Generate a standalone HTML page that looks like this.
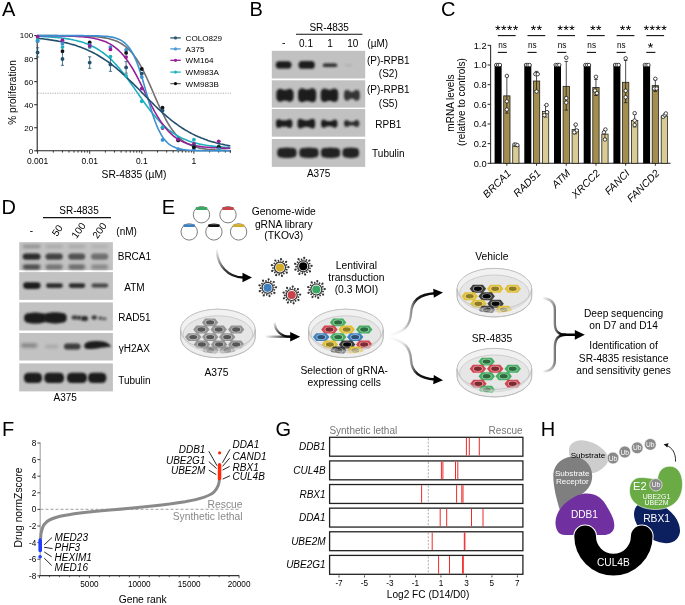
<!DOCTYPE html>
<html><head><meta charset="utf-8"><style>
html,body{margin:0;padding:0;background:#fff;}
svg{display:block;will-change:transform;}
text{font-family:"Liberation Sans", sans-serif;}
</style></head><body>
<svg width="685" height="605" viewBox="0 0 685 605" font-family="Liberation Sans, sans-serif">
<rect width="685" height="605" fill="#fff"/>
<text x="2.00" y="15.80" font-size="20" text-anchor="start" fill="#000" >A</text>
<text x="249.40" y="15.80" font-size="20" text-anchor="start" fill="#000" >B</text>
<text x="440.90" y="15.80" font-size="20" text-anchor="start" fill="#000" >C</text>
<text x="1.60" y="213.80" font-size="20" text-anchor="start" fill="#000" >D</text>
<text x="161.80" y="213.80" font-size="20" text-anchor="start" fill="#000" >E</text>
<text x="2.00" y="436.00" font-size="20" text-anchor="start" fill="#000" >F</text>
<text x="275.50" y="436.00" font-size="20" text-anchor="start" fill="#000" >G</text>
<text x="540.70" y="436.00" font-size="20" text-anchor="start" fill="#000" >H</text>
<line x1="37.20" y1="35.20" x2="37.20" y2="151.30" stroke="#222" stroke-width="1.1" />
<line x1="36.70" y1="150.80" x2="231.00" y2="150.80" stroke="#222" stroke-width="1.1" />
<line x1="34.20" y1="150.80" x2="37.20" y2="150.80" stroke="#222" stroke-width="1" />
<text x="33.20" y="153.66" font-size="8" text-anchor="end" fill="#000" >0</text>
<line x1="34.20" y1="127.76" x2="37.20" y2="127.76" stroke="#222" stroke-width="1" />
<text x="33.20" y="130.62" font-size="8" text-anchor="end" fill="#000" >20</text>
<line x1="34.20" y1="104.72" x2="37.20" y2="104.72" stroke="#222" stroke-width="1" />
<text x="33.20" y="107.58" font-size="8" text-anchor="end" fill="#000" >40</text>
<line x1="34.20" y1="81.68" x2="37.20" y2="81.68" stroke="#222" stroke-width="1" />
<text x="33.20" y="84.54" font-size="8" text-anchor="end" fill="#000" >60</text>
<line x1="34.20" y1="58.64" x2="37.20" y2="58.64" stroke="#222" stroke-width="1" />
<text x="33.20" y="61.50" font-size="8" text-anchor="end" fill="#000" >80</text>
<line x1="34.20" y1="35.60" x2="37.20" y2="35.60" stroke="#222" stroke-width="1" />
<text x="33.20" y="38.46" font-size="8" text-anchor="end" fill="#000" >100</text>
<line x1="37.60" y1="150.80" x2="37.60" y2="153.80" stroke="#222" stroke-width="0.9" />
<line x1="53.28" y1="150.80" x2="53.28" y2="152.60" stroke="#222" stroke-width="0.9" />
<line x1="62.46" y1="150.80" x2="62.46" y2="152.60" stroke="#222" stroke-width="0.9" />
<line x1="68.97" y1="150.80" x2="68.97" y2="152.60" stroke="#222" stroke-width="0.9" />
<line x1="74.02" y1="150.80" x2="74.02" y2="152.60" stroke="#222" stroke-width="0.9" />
<line x1="78.14" y1="150.80" x2="78.14" y2="152.60" stroke="#222" stroke-width="0.9" />
<line x1="81.63" y1="150.80" x2="81.63" y2="152.60" stroke="#222" stroke-width="0.9" />
<line x1="84.65" y1="150.80" x2="84.65" y2="152.60" stroke="#222" stroke-width="0.9" />
<line x1="87.32" y1="150.80" x2="87.32" y2="152.60" stroke="#222" stroke-width="0.9" />
<line x1="89.70" y1="150.80" x2="89.70" y2="153.80" stroke="#222" stroke-width="0.9" />
<line x1="105.38" y1="150.80" x2="105.38" y2="152.60" stroke="#222" stroke-width="0.9" />
<line x1="114.56" y1="150.80" x2="114.56" y2="152.60" stroke="#222" stroke-width="0.9" />
<line x1="121.07" y1="150.80" x2="121.07" y2="152.60" stroke="#222" stroke-width="0.9" />
<line x1="126.12" y1="150.80" x2="126.12" y2="152.60" stroke="#222" stroke-width="0.9" />
<line x1="130.24" y1="150.80" x2="130.24" y2="152.60" stroke="#222" stroke-width="0.9" />
<line x1="133.73" y1="150.80" x2="133.73" y2="152.60" stroke="#222" stroke-width="0.9" />
<line x1="136.75" y1="150.80" x2="136.75" y2="152.60" stroke="#222" stroke-width="0.9" />
<line x1="139.42" y1="150.80" x2="139.42" y2="152.60" stroke="#222" stroke-width="0.9" />
<line x1="141.80" y1="150.80" x2="141.80" y2="153.80" stroke="#222" stroke-width="0.9" />
<line x1="157.48" y1="150.80" x2="157.48" y2="152.60" stroke="#222" stroke-width="0.9" />
<line x1="166.66" y1="150.80" x2="166.66" y2="152.60" stroke="#222" stroke-width="0.9" />
<line x1="173.17" y1="150.80" x2="173.17" y2="152.60" stroke="#222" stroke-width="0.9" />
<line x1="178.22" y1="150.80" x2="178.22" y2="152.60" stroke="#222" stroke-width="0.9" />
<line x1="182.34" y1="150.80" x2="182.34" y2="152.60" stroke="#222" stroke-width="0.9" />
<line x1="185.83" y1="150.80" x2="185.83" y2="152.60" stroke="#222" stroke-width="0.9" />
<line x1="188.85" y1="150.80" x2="188.85" y2="152.60" stroke="#222" stroke-width="0.9" />
<line x1="191.52" y1="150.80" x2="191.52" y2="152.60" stroke="#222" stroke-width="0.9" />
<line x1="193.90" y1="150.80" x2="193.90" y2="153.80" stroke="#222" stroke-width="0.9" />
<line x1="209.58" y1="150.80" x2="209.58" y2="152.60" stroke="#222" stroke-width="0.9" />
<line x1="218.76" y1="150.80" x2="218.76" y2="152.60" stroke="#222" stroke-width="0.9" />
<line x1="225.27" y1="150.80" x2="225.27" y2="152.60" stroke="#222" stroke-width="0.9" />
<line x1="230.32" y1="150.80" x2="230.32" y2="152.60" stroke="#222" stroke-width="0.9" />
<line x1="230.32" y1="150.80" x2="230.32" y2="152.60" stroke="#222" stroke-width="0.9" />
<text x="37.60" y="163.84" font-size="8.5" text-anchor="middle" fill="#000" >0.001</text>
<text x="89.70" y="163.84" font-size="8.5" text-anchor="middle" fill="#000" >0.01</text>
<text x="141.80" y="163.84" font-size="8.5" text-anchor="middle" fill="#000" >0.1</text>
<text x="193.90" y="163.84" font-size="8.5" text-anchor="middle" fill="#000" >1</text>
<text x="134.00" y="177.59" font-size="10.3" text-anchor="middle" fill="#000" >SR-4835 (µM)</text>
<text transform="translate(16.4,92.5) rotate(-90)" font-size="10.1" text-anchor="middle">% proliferation</text>
<line x1="38.00" y1="93.20" x2="231.00" y2="93.20" stroke="#999" stroke-width="0.8" stroke-dasharray="1.2 1.2"/>
<polyline points="37.6,35.6 39.2,35.6 40.8,35.6 42.4,35.6 44.0,35.6 45.6,35.6 47.2,35.6 48.8,35.6 50.4,35.6 52.1,35.6 53.7,35.6 55.3,35.6 56.9,35.6 58.5,35.7 60.1,35.7 61.7,35.7 63.3,35.7 64.9,35.7 66.5,35.7 68.1,35.7 69.7,35.7 71.3,35.8 72.9,35.8 74.5,35.8 76.1,35.8 77.7,35.9 79.4,35.9 81.0,35.9 82.6,36.0 84.2,36.0 85.8,36.1 87.4,36.2 89.0,36.2 90.6,36.3 92.2,36.4 93.8,36.5 95.4,36.7 97.0,36.8 98.6,37.0 100.2,37.2 101.8,37.4 103.4,37.6 105.1,37.9 106.7,38.2 108.3,38.5 109.9,38.9 111.5,39.4 113.1,39.9 114.7,40.4 116.3,41.1 117.9,41.8 119.5,42.6 121.1,43.5 122.7,44.5 124.3,45.6 125.9,46.9 127.5,48.3 129.1,49.8 130.7,51.5 132.4,53.3 134.0,55.4 135.6,57.6 137.2,60.0 138.8,62.5 140.4,65.3 142.0,68.2 143.6,71.3 145.2,74.6 146.8,78.0 148.4,81.5 150.0,85.1 151.6,88.8 153.2,92.5 154.8,96.2 156.4,99.9 158.0,103.5 159.7,107.1 161.3,110.5 162.9,113.8 164.5,117.0 166.1,120.0 167.7,122.8 169.3,125.5 170.9,127.9 172.5,130.2 174.1,132.3 175.7,134.2 177.3,136.0 178.9,137.6 180.5,139.0 182.1,140.3 183.7,141.5 185.3,142.5 187.0,143.5 188.6,144.3 190.2,145.0 191.8,145.7 193.4,146.3 195.0,146.8 196.6,147.3 198.2,147.7 199.8,148.1 201.4,148.4 203.0,148.7 204.6,148.9 206.2,149.2 207.8,149.4 209.4,149.5 211.0,149.7 212.7,149.8 214.3,149.9 215.9,150.0 217.5,150.1 219.1,150.2 220.7,150.3 222.3,150.3 223.9,150.4 225.5,150.4 227.1,150.5 228.7,150.5 230.3,150.6" fill="none" stroke="#6f6f6f" stroke-width="1.6"/>
<polyline points="37.6,36.3 39.2,36.4 40.8,36.4 42.4,36.5 44.0,36.6 45.6,36.7 47.2,36.8 48.8,36.9 50.4,37.0 52.1,37.1 53.7,37.2 55.3,37.4 56.9,37.5 58.5,37.7 60.1,37.8 61.7,38.0 63.3,38.2 64.9,38.4 66.5,38.7 68.1,38.9 69.7,39.2 71.3,39.5 72.9,39.8 74.5,40.2 76.1,40.5 77.7,40.9 79.4,41.4 81.0,41.8 82.6,42.3 84.2,42.8 85.8,43.4 87.4,44.0 89.0,44.7 90.6,45.4 92.2,46.2 93.8,47.0 95.4,47.8 97.0,48.7 98.6,49.7 100.2,50.8 101.8,51.9 103.4,53.0 105.1,54.3 106.7,55.6 108.3,57.0 109.9,58.4 111.5,59.9 113.1,61.5 114.7,63.2 116.3,64.9 117.9,66.7 119.5,68.6 121.1,70.6 122.7,72.5 124.3,74.6 125.9,76.7 127.5,78.9 129.1,81.1 130.7,83.3 132.4,85.6 134.0,87.8 135.6,90.1 137.2,92.4 138.8,94.7 140.4,97.0 142.0,99.3 143.6,101.6 145.2,103.8 146.8,106.0 148.4,108.1 150.0,110.2 151.6,112.2 153.2,114.2 154.8,116.1 156.4,118.0 158.0,119.8 159.7,121.5 161.3,123.1 162.9,124.7 164.5,126.2 166.1,127.6 167.7,129.0 169.3,130.3 170.9,131.5 172.5,132.6 174.1,133.7 175.7,134.7 177.3,135.7 178.9,136.6 180.5,137.4 182.1,138.2 183.7,138.9 185.3,139.6 187.0,140.3 188.6,140.9 190.2,141.4 191.8,142.0 193.4,142.4 195.0,142.9 196.6,143.3 198.2,143.7 199.8,144.1 201.4,144.4 203.0,144.7 204.6,145.0 206.2,145.3 207.8,145.5 209.4,145.7 211.0,145.9 212.7,146.1 214.3,146.3 215.9,146.5 217.5,146.6 219.1,146.8 220.7,146.9 222.3,147.0 223.9,147.2 225.5,147.3 227.1,147.4 228.7,147.4 230.3,147.5" fill="none" stroke="#1fb0bf" stroke-width="1.6"/>
<polyline points="37.6,35.6 39.2,35.7 40.8,35.7 42.4,35.7 44.0,35.7 45.6,35.7 47.2,35.7 48.8,35.7 50.4,35.7 52.1,35.7 53.7,35.8 55.3,35.8 56.9,35.8 58.5,35.8 60.1,35.8 61.7,35.9 63.3,35.9 64.9,35.9 66.5,36.0 68.1,36.0 69.7,36.1 71.3,36.1 72.9,36.2 74.5,36.3 76.1,36.4 77.7,36.5 79.4,36.6 81.0,36.7 82.6,36.8 84.2,37.0 85.8,37.1 87.4,37.3 89.0,37.5 90.6,37.8 92.2,38.0 93.8,38.3 95.4,38.7 97.0,39.0 98.6,39.4 100.2,39.9 101.8,40.4 103.4,41.0 105.1,41.6 106.7,42.3 108.3,43.1 109.9,43.9 111.5,44.9 113.1,45.9 114.7,47.1 116.3,48.3 117.9,49.7 119.5,51.2 121.1,52.8 122.7,54.6 124.3,56.5 125.9,58.6 127.5,60.8 129.1,63.1 130.7,65.6 132.4,68.2 134.0,71.0 135.6,73.9 137.2,76.9 138.8,80.0 140.4,83.2 142.0,86.4 143.6,89.7 145.2,92.9 146.8,96.2 148.4,99.5 150.0,102.7 151.6,105.8 153.2,108.8 154.8,111.8 156.4,114.6 158.0,117.3 159.7,119.9 161.3,122.3 162.9,124.5 164.5,126.7 166.1,128.6 167.7,130.5 169.3,132.2 170.9,133.7 172.5,135.2 174.1,136.5 175.7,137.7 177.3,138.8 178.9,139.7 180.5,140.6 182.1,141.4 183.7,142.2 185.3,142.8 187.0,143.4 188.6,144.0 190.2,144.4 191.8,144.9 193.4,145.3 195.0,145.6 196.6,145.9 198.2,146.2 199.8,146.4 201.4,146.7 203.0,146.9 204.6,147.0 206.2,147.2 207.8,147.3 209.4,147.5 211.0,147.6 212.7,147.7 214.3,147.8 215.9,147.8 217.5,147.9 219.1,148.0 220.7,148.0 222.3,148.1 223.9,148.1 225.5,148.2 227.1,148.2 228.7,148.2 230.3,148.3" fill="none" stroke="#961e96" stroke-width="1.6"/>
<polyline points="37.6,35.6 39.2,35.6 40.8,35.6 42.4,35.6 44.0,35.6 45.6,35.6 47.2,35.6 48.8,35.6 50.4,35.6 52.1,35.6 53.7,35.6 55.3,35.6 56.9,35.6 58.5,35.6 60.1,35.6 61.7,35.6 63.3,35.6 64.9,35.6 66.5,35.6 68.1,35.6 69.7,35.6 71.3,35.6 72.9,35.6 74.5,35.6 76.1,35.6 77.7,35.6 79.4,35.6 81.0,35.6 82.6,35.6 84.2,35.7 85.8,35.7 87.4,35.7 89.0,35.7 90.6,35.7 92.2,35.7 93.8,35.8 95.4,35.8 97.0,35.9 98.6,35.9 100.2,36.0 101.8,36.1 103.4,36.2 105.1,36.3 106.7,36.4 108.3,36.6 109.9,36.8 111.5,37.1 113.1,37.4 114.7,37.8 116.3,38.3 117.9,38.9 119.5,39.5 121.1,40.4 122.7,41.4 124.3,42.6 125.9,44.0 127.5,45.7 129.1,47.7 130.7,50.0 132.4,52.7 134.0,55.8 135.6,59.3 137.2,63.3 138.8,67.6 140.4,72.4 142.0,77.6 143.6,83.0 145.2,88.6 146.8,94.3 148.4,100.0 150.0,105.6 151.6,110.9 153.2,115.9 154.8,120.6 156.4,124.8 158.0,128.6 159.7,131.9 161.3,134.9 162.9,137.4 164.5,139.6 166.1,141.4 167.7,143.0 169.3,144.3 170.9,145.4 172.5,146.4 174.1,147.1 175.7,147.8 177.3,148.3 178.9,148.8 180.5,149.1 182.1,149.4 183.7,149.7 185.3,149.9 187.0,150.0 188.6,150.2 190.2,150.3 191.8,150.4 193.4,150.5 195.0,150.5 196.6,150.6 198.2,150.6 199.8,150.6 201.4,150.7 203.0,150.7 204.6,150.7 206.2,150.7 207.8,150.7 209.4,150.8 211.0,150.8 212.7,150.8 214.3,150.8 215.9,150.8 217.5,150.8 219.1,150.8 220.7,150.8 222.3,150.8 223.9,150.8 225.5,150.8 227.1,150.8 228.7,150.8 230.3,150.8" fill="none" stroke="#3b8fd0" stroke-width="1.6"/>
<polyline points="37.6,38.3 39.2,38.5 40.8,38.7 42.4,38.8 44.0,39.0 45.6,39.2 47.2,39.4 48.8,39.6 50.4,39.9 52.1,40.1 53.7,40.4 55.3,40.6 56.9,40.9 58.5,41.2 60.1,41.5 61.7,41.8 63.3,42.2 64.9,42.5 66.5,42.9 68.1,43.3 69.7,43.7 71.3,44.2 72.9,44.6 74.5,45.1 76.1,45.6 77.7,46.2 79.4,46.7 81.0,47.3 82.6,47.9 84.2,48.6 85.8,49.2 87.4,49.9 89.0,50.7 90.6,51.4 92.2,52.2 93.8,53.0 95.4,53.9 97.0,54.8 98.6,55.7 100.2,56.7 101.8,57.7 103.4,58.7 105.1,59.8 106.7,60.9 108.3,62.0 109.9,63.2 111.5,64.4 113.1,65.6 114.7,66.9 116.3,68.2 117.9,69.6 119.5,70.9 121.1,72.3 122.7,73.8 124.3,75.2 125.9,76.7 127.5,78.2 129.1,79.8 130.7,81.3 132.4,82.9 134.0,84.5 135.6,86.1 137.2,87.7 138.8,89.3 140.4,91.0 142.0,92.6 143.6,94.2 145.2,95.9 146.8,97.5 148.4,99.1 150.0,100.7 151.6,102.3 153.2,103.9 154.8,105.5 156.4,107.0 158.0,108.6 159.7,110.1 161.3,111.6 162.9,113.0 164.5,114.4 166.1,115.8 167.7,117.2 169.3,118.5 170.9,119.8 172.5,121.1 174.1,122.3 175.7,123.5 177.3,124.7 178.9,125.8 180.5,126.9 182.1,128.0 183.7,129.0 185.3,130.0 187.0,130.9 188.6,131.9 190.2,132.7 191.8,133.6 193.4,134.4 195.0,135.2 196.6,135.9 198.2,136.7 199.8,137.3 201.4,138.0 203.0,138.6 204.6,139.2 206.2,139.8 207.8,140.4 209.4,140.9 211.0,141.4 212.7,141.9 214.3,142.3 215.9,142.8 217.5,143.2 219.1,143.6 220.7,144.0 222.3,144.3 223.9,144.6 225.5,145.0 227.1,145.3 228.7,145.6 230.3,145.8" fill="none" stroke="#23506d" stroke-width="1.6"/>
<line x1="37.60" y1="47.81" x2="37.60" y2="57.03" stroke="#23506d" stroke-width="0.8" />
<line x1="36.00" y1="47.81" x2="39.20" y2="47.81" stroke="#23506d" stroke-width="0.8" />
<line x1="36.00" y1="57.03" x2="39.20" y2="57.03" stroke="#23506d" stroke-width="0.8" />
<circle cx="37.60" cy="52.42" r="1.9" fill="#23506d"/>
<circle cx="37.60" cy="36.75" r="1.9" fill="#961e96"/>
<circle cx="37.60" cy="40.21" r="1.9" fill="#1fb0bf"/>
<circle cx="37.60" cy="41.36" r="1.9" fill="#3b8fd0"/>
<line x1="62.46" y1="52.65" x2="62.46" y2="65.32" stroke="#23506d" stroke-width="0.8" />
<line x1="60.86" y1="52.65" x2="64.06" y2="52.65" stroke="#23506d" stroke-width="0.8" />
<line x1="60.86" y1="65.32" x2="64.06" y2="65.32" stroke="#23506d" stroke-width="0.8" />
<circle cx="62.46" cy="58.99" r="1.9" fill="#23506d"/>
<circle cx="62.46" cy="40.21" r="1.9" fill="#961e96"/>
<circle cx="62.46" cy="47.12" r="1.9" fill="#1fb0bf"/>
<circle cx="62.46" cy="43.66" r="1.9" fill="#3b8fd0"/>
<circle cx="62.46" cy="51.04" r="1.9" fill="#111"/>
<line x1="89.70" y1="56.80" x2="89.70" y2="68.32" stroke="#23506d" stroke-width="0.8" />
<line x1="88.10" y1="56.80" x2="91.30" y2="56.80" stroke="#23506d" stroke-width="0.8" />
<line x1="88.10" y1="68.32" x2="91.30" y2="68.32" stroke="#23506d" stroke-width="0.8" />
<circle cx="89.70" cy="62.56" r="1.9" fill="#23506d"/>
<circle cx="89.70" cy="42.51" r="1.9" fill="#111"/>
<circle cx="89.70" cy="44.82" r="1.9" fill="#3b8fd0"/>
<circle cx="89.70" cy="47.12" r="1.9" fill="#1fb0bf"/>
<circle cx="89.70" cy="45.97" r="1.9" fill="#961e96"/>
<line x1="110.43" y1="57.49" x2="110.43" y2="71.31" stroke="#23506d" stroke-width="0.8" />
<line x1="108.83" y1="57.49" x2="112.03" y2="57.49" stroke="#23506d" stroke-width="0.8" />
<line x1="108.83" y1="71.31" x2="112.03" y2="71.31" stroke="#23506d" stroke-width="0.8" />
<circle cx="110.43" cy="64.40" r="1.9" fill="#23506d"/>
<circle cx="110.43" cy="47.12" r="1.9" fill="#3b8fd0"/>
<circle cx="110.43" cy="49.42" r="1.9" fill="#961e96"/>
<circle cx="110.43" cy="56.57" r="1.9" fill="#1fb0bf"/>
<line x1="126.12" y1="61.64" x2="126.12" y2="73.16" stroke="#23506d" stroke-width="0.8" />
<line x1="124.52" y1="61.64" x2="127.72" y2="61.64" stroke="#23506d" stroke-width="0.8" />
<line x1="124.52" y1="73.16" x2="127.72" y2="73.16" stroke="#23506d" stroke-width="0.8" />
<circle cx="126.12" cy="67.40" r="1.9" fill="#23506d"/>
<circle cx="126.12" cy="50.00" r="1.9" fill="#3b8fd0"/>
<circle cx="126.12" cy="52.88" r="1.9" fill="#111"/>
<circle cx="126.12" cy="57.03" r="1.9" fill="#961e96"/>
<circle cx="126.12" cy="75.92" r="1.9" fill="#1fb0bf"/>
<circle cx="141.80" cy="69.01" r="1.9" fill="#111"/>
<circle cx="141.80" cy="73.62" r="1.9" fill="#23506d"/>
<circle cx="141.80" cy="77.07" r="1.9" fill="#3b8fd0"/>
<circle cx="141.80" cy="88.59" r="1.9" fill="#961e96"/>
<circle cx="141.80" cy="101.26" r="1.9" fill="#1fb0bf"/>
<circle cx="162.53" cy="107.72" r="1.9" fill="#111"/>
<circle cx="162.53" cy="110.48" r="1.9" fill="#23506d"/>
<circle cx="162.53" cy="127.99" r="1.9" fill="#961e96"/>
<circle cx="162.53" cy="139.97" r="1.9" fill="#3b8fd0"/>
<circle cx="162.53" cy="127.18" r="1.9" fill="#1fb0bf"/>
<circle cx="178.22" cy="137.55" r="1.9" fill="#1fb0bf"/>
<circle cx="178.22" cy="139.63" r="1.9" fill="#23506d"/>
<circle cx="178.22" cy="140.43" r="1.9" fill="#111"/>
<circle cx="178.22" cy="149.07" r="1.9" fill="#3b8fd0"/>
<circle cx="178.22" cy="139.28" r="1.9" fill="#961e96"/>
<circle cx="193.90" cy="139.63" r="1.9" fill="#1fb0bf"/>
<circle cx="193.90" cy="144.00" r="1.9" fill="#961e96"/>
<circle cx="193.90" cy="145.96" r="1.9" fill="#23506d"/>
<circle cx="193.90" cy="149.07" r="1.9" fill="#3b8fd0"/>
<circle cx="193.90" cy="147.34" r="1.9" fill="#111"/>
<circle cx="218.76" cy="141.35" r="1.9" fill="#961e96"/>
<circle cx="218.76" cy="146.42" r="1.9" fill="#23506d"/>
<circle cx="218.76" cy="147.34" r="1.9" fill="#111"/>
<circle cx="218.76" cy="149.07" r="1.9" fill="#1fb0bf"/>
<circle cx="218.76" cy="149.65" r="1.9" fill="#3b8fd0"/>
<line x1="170.30" y1="37.90" x2="180.80" y2="37.90" stroke="#2d5470" stroke-width="1.3" />
<circle cx="175.5" cy="37.9" r="1.6" fill="#2d5470"/>
<text x="185.60" y="40.80" font-size="8.1" text-anchor="start" fill="#000" >COLO829</text>
<line x1="170.30" y1="48.90" x2="180.80" y2="48.90" stroke="#4a9ad4" stroke-width="1.3" />
<circle cx="175.5" cy="48.9" r="1.6" fill="#4a9ad4"/>
<text x="185.60" y="51.80" font-size="8.1" text-anchor="start" fill="#000" >A375</text>
<line x1="170.30" y1="60.30" x2="180.80" y2="60.30" stroke="#9a1f9a" stroke-width="1.3" />
<circle cx="175.5" cy="60.3" r="1.6" fill="#9a1f9a"/>
<text x="185.60" y="63.20" font-size="8.1" text-anchor="start" fill="#000" >WM164</text>
<line x1="170.30" y1="72.10" x2="180.80" y2="72.10" stroke="#22b5c0" stroke-width="1.3" />
<circle cx="175.5" cy="72.1" r="1.6" fill="#22b5c0"/>
<text x="185.60" y="75.00" font-size="8.1" text-anchor="start" fill="#000" >WM983A</text>
<line x1="170.30" y1="83.60" x2="180.80" y2="83.60" stroke="#666" stroke-width="1.3" />
<circle cx="175.5" cy="83.6" r="1.6" fill="#000"/>
<text x="185.60" y="86.50" font-size="8.1" text-anchor="start" fill="#000" >WM983B</text>
<text x="329.20" y="30.78" font-size="10" text-anchor="middle" fill="#000" >SR-4835</text>
<line x1="296.00" y1="34.20" x2="362.40" y2="34.20" stroke="#111" stroke-width="1.1" />
<text x="283.80" y="46.36" font-size="10.5" text-anchor="middle" fill="#000" >-</text>
<text x="306.00" y="46.78" font-size="10" text-anchor="middle" fill="#000" >0.1</text>
<text x="330.00" y="46.78" font-size="10" text-anchor="middle" fill="#000" >1</text>
<text x="352.80" y="46.78" font-size="10" text-anchor="middle" fill="#000" >10</text>
<text x="367.30" y="46.78" font-size="10" text-anchor="start" fill="#000" >(µM)</text>
<defs>
<filter id="bl" x="-30%" y="-80%" width="160%" height="260%"><feGaussianBlur stdDeviation="0.9"/></filter>
<filter id="bl2" x="-30%" y="-80%" width="160%" height="260%"><feGaussianBlur stdDeviation="1.4"/></filter>
<filter id="bls" x="-10%" y="-10%" width="120%" height="120%"><feGaussianBlur stdDeviation="0.35"/></filter>
</defs>
<rect x="271.8" y="50.8" width="93.4" height="27.7" fill="#c1c1c1"/>
<rect x="271.8" y="80.3" width="93.4" height="27.3" fill="#c1c1c1"/>
<rect x="271.8" y="109.0" width="93.4" height="27.7" fill="#c1c1c1"/>
<rect x="271.8" y="139.0" width="93.4" height="27.9" fill="#c1c1c1"/>
<path d="M275.70,64.90 Q275.70,61.30 279.30,61.30 Q283.60,61.30 287.90,61.30 Q291.50,61.30 291.50,64.90 L291.50,64.90 Q291.50,68.50 287.90,68.50 Q283.60,68.50 279.30,68.50 Q275.70,68.50 275.70,64.90 Z" fill="#1a1a1a" opacity="1.0" filter="url(#bl)"/>
<path d="M298.50,64.90 Q298.50,61.00 302.40,61.00 Q306.70,61.00 311.00,61.00 Q314.90,61.00 314.90,64.90 L314.90,64.90 Q314.90,68.80 311.00,68.80 Q306.70,68.80 302.40,68.80 Q298.50,68.80 298.50,64.90 Z" fill="#1a1a1a" opacity="1.0" filter="url(#bl)"/>
<path d="M322.80,65.20 Q322.80,63.40 324.60,63.40 Q330.00,63.40 335.40,63.40 Q337.20,63.40 337.20,65.20 L337.20,65.20 Q337.20,67.00 335.40,67.00 Q330.00,67.00 324.60,67.00 Q322.80,67.00 322.80,65.20 Z" fill="#1a1a1a" opacity="0.9" filter="url(#bl)"/>
<path d="M345.00,65.20 Q345.00,64.20 346.00,64.20 Q348.50,64.20 351.00,64.20 Q352.00,64.20 352.00,65.20 L352.00,65.20 Q352.00,66.20 351.00,66.20 Q348.50,66.20 346.00,66.20 Q345.00,66.20 345.00,65.20 Z" fill="#1a1a1a" opacity="0.1" filter="url(#bl)"/>
<path d="M276.40,93.30 Q276.40,88.80 280.90,88.80 Q284.95,91.40 289.00,88.80 Q293.50,88.80 293.50,93.30 L293.50,97.30 Q293.50,101.80 289.00,101.80 Q284.95,99.20 280.90,101.80 Q276.40,101.80 276.40,97.30 Z" fill="#1a1a1a" opacity="1.0" filter="url(#bl)"/>
<path d="M298.10,92.80 Q298.10,88.30 302.60,88.30 Q307.15,90.82 311.70,88.30 Q316.20,88.30 316.20,92.80 L316.20,97.80 Q316.20,102.30 311.70,102.30 Q307.15,99.78 302.60,102.30 Q298.10,102.30 298.10,97.80 Z" fill="#1a1a1a" opacity="1.0" filter="url(#bl)"/>
<path d="M320.70,93.05 Q320.70,88.55 325.20,88.55 Q329.45,91.25 333.70,88.55 Q338.20,88.55 338.20,93.05 L338.20,97.55 Q338.20,102.05 333.70,102.05 Q329.45,99.35 325.20,102.05 Q320.70,102.05 320.70,97.55 Z" fill="#1a1a1a" opacity="1.0" filter="url(#bl)"/>
<path d="M344.00,93.80 Q344.00,89.80 348.00,89.80 Q351.90,94.20 355.80,89.80 Q359.80,89.80 359.80,93.80 L359.80,96.80 Q359.80,100.80 355.80,100.80 Q351.90,96.40 348.00,100.80 Q344.00,100.80 344.00,96.80 Z" fill="#1a1a1a" opacity="0.85" filter="url(#bl)"/>
<path d="M276.00,122.30 Q276.00,119.30 279.00,119.30 Q284.15,121.88 289.30,119.30 Q292.30,119.30 292.30,122.30 L292.30,124.90 Q292.30,127.90 289.30,127.90 Q284.15,125.32 279.00,127.90 Q276.00,127.90 276.00,124.90 Z" fill="#1a1a1a" opacity="1.0" filter="url(#bl)"/>
<path d="M297.60,121.80 Q297.60,118.80 300.60,118.80 Q306.35,122.16 312.10,118.80 Q315.10,118.80 315.10,121.80 L315.10,125.40 Q315.10,128.40 312.10,128.40 Q306.35,125.04 300.60,128.40 Q297.60,128.40 297.60,125.40 Z" fill="#1a1a1a" opacity="1.0" filter="url(#bl)"/>
<path d="M321.10,122.40 Q321.10,119.40 324.10,119.40 Q329.25,123.18 334.40,119.40 Q337.40,119.40 337.40,122.40 L337.40,124.80 Q337.40,127.80 334.40,127.80 Q329.25,124.02 324.10,127.80 Q321.10,127.80 321.10,124.80 Z" fill="#1a1a1a" opacity="1.0" filter="url(#bl)"/>
<path d="M344.00,123.10 Q344.00,120.10 347.00,120.10 Q351.65,123.95 356.30,120.10 Q359.30,120.10 359.30,123.10 L359.30,124.10 Q359.30,127.10 356.30,127.10 Q351.65,123.25 347.00,127.10 Q344.00,127.10 344.00,124.10 Z" fill="#1a1a1a" opacity="0.9" filter="url(#bl)"/>
<path d="M277.20,152.10 Q277.20,148.10 281.20,148.10 Q286.90,146.97 292.60,148.10 Q296.60,148.10 296.60,152.10 L296.60,153.50 Q296.60,157.50 292.60,157.50 Q286.90,158.63 281.20,157.50 Q277.20,157.50 277.20,153.50 Z" fill="#222" opacity="1.0" filter="url(#bl)"/>
<path d="M299.30,152.10 Q299.30,148.10 303.30,148.10 Q308.95,146.97 314.60,148.10 Q318.60,148.10 318.60,152.10 L318.60,153.50 Q318.60,157.50 314.60,157.50 Q308.95,158.63 303.30,157.50 Q299.30,157.50 299.30,153.50 Z" fill="#222" opacity="1.0" filter="url(#bl)"/>
<path d="M320.90,152.10 Q320.90,148.10 324.90,148.10 Q330.55,146.97 336.20,148.10 Q340.20,148.10 340.20,152.10 L340.20,153.50 Q340.20,157.50 336.20,157.50 Q330.55,158.63 324.90,157.50 Q320.90,157.50 320.90,153.50 Z" fill="#222" opacity="1.0" filter="url(#bl)"/>
<path d="M342.40,152.10 Q342.40,148.10 346.40,148.10 Q350.75,146.97 355.10,148.10 Q359.10,148.10 359.10,152.10 L359.10,153.50 Q359.10,157.50 355.10,157.50 Q350.75,158.63 346.40,157.50 Q342.40,157.50 342.40,153.50 Z" fill="#222" opacity="1.0" filter="url(#bl)"/>
<text x="388.30" y="64.18" font-size="10" text-anchor="middle" fill="#000" >(P)-RPB1</text>
<text x="388.30" y="76.58" font-size="10" text-anchor="middle" fill="#000" >(S2)</text>
<text x="388.30" y="93.28" font-size="10" text-anchor="middle" fill="#000" >(P)-RPB1</text>
<text x="388.30" y="106.58" font-size="10" text-anchor="middle" fill="#000" >(S5)</text>
<text x="388.30" y="127.58" font-size="10" text-anchor="middle" fill="#000" >RPB1</text>
<text x="388.30" y="156.58" font-size="10" text-anchor="middle" fill="#000" >Tubulin</text>
<text x="318.60" y="177.38" font-size="10" text-anchor="middle" fill="#000" >A375</text>
<line x1="490.60" y1="45.00" x2="490.60" y2="163.80" stroke="#333" stroke-width="1.1" />
<line x1="490.10" y1="163.30" x2="670.50" y2="163.30" stroke="#222" stroke-width="1.1" />
<line x1="487.60" y1="163.30" x2="490.60" y2="163.30" stroke="#222" stroke-width="1" />
<text x="486.60" y="166.63" font-size="9.3" text-anchor="end" fill="#000" >0.0</text>
<line x1="487.60" y1="143.64" x2="490.60" y2="143.64" stroke="#222" stroke-width="1" />
<text x="486.60" y="146.97" font-size="9.3" text-anchor="end" fill="#000" >0.2</text>
<line x1="487.60" y1="123.98" x2="490.60" y2="123.98" stroke="#222" stroke-width="1" />
<text x="486.60" y="127.31" font-size="9.3" text-anchor="end" fill="#000" >0.4</text>
<line x1="487.60" y1="104.32" x2="490.60" y2="104.32" stroke="#222" stroke-width="1" />
<text x="486.60" y="107.65" font-size="9.3" text-anchor="end" fill="#000" >0.6</text>
<line x1="487.60" y1="84.66" x2="490.60" y2="84.66" stroke="#222" stroke-width="1" />
<text x="486.60" y="87.99" font-size="9.3" text-anchor="end" fill="#000" >0.8</text>
<line x1="487.60" y1="65.00" x2="490.60" y2="65.00" stroke="#222" stroke-width="1" />
<text x="486.60" y="68.33" font-size="9.3" text-anchor="end" fill="#000" >1.0</text>
<line x1="487.60" y1="45.34" x2="490.60" y2="45.34" stroke="#222" stroke-width="1" />
<text x="486.60" y="48.67" font-size="9.3" text-anchor="end" fill="#000" >1.2</text>
<text transform="translate(453.8,103) rotate(-90)" font-size="10" text-anchor="middle">mRNA levels</text>
<text transform="translate(465,102) rotate(-90)" font-size="10" text-anchor="middle">(relative to controls)</text>
<rect x="494.60" y="65.00" width="7.0" height="98.30" fill="#000"/>
<rect x="503.70" y="95.87" width="6.3" height="67.43" fill="#a38d4f" stroke="#222" stroke-width="0.8"/>
<rect x="512.70" y="145.90" width="6.3" height="17.40" fill="#d8cb95" stroke="#222" stroke-width="0.8"/>
<line x1="506.85" y1="75.91" x2="506.85" y2="113.17" stroke="#222" stroke-width="0.8" />
<line x1="505.05" y1="75.91" x2="508.65" y2="75.91" stroke="#222" stroke-width="0.8" />
<line x1="505.05" y1="113.17" x2="508.65" y2="113.17" stroke="#222" stroke-width="0.8" />
<circle cx="506.85" cy="75.91" r="1.75" fill="#fff" stroke="#111" stroke-width="0.75"/>
<circle cx="506.85" cy="101.37" r="1.75" fill="#fff" stroke="#111" stroke-width="0.75"/>
<circle cx="506.85" cy="109.53" r="1.75" fill="#fff" stroke="#111" stroke-width="0.75"/>
<circle cx="514.35" cy="144.62" r="1.75" fill="#fff" stroke="#111" stroke-width="0.75"/>
<circle cx="515.85" cy="144.62" r="1.75" fill="#fff" stroke="#111" stroke-width="0.75"/>
<circle cx="517.35" cy="145.11" r="1.75" fill="#fff" stroke="#111" stroke-width="0.75"/>
<circle cx="496.30" cy="65.00" r="1.75" fill="#fff" stroke="#111" stroke-width="0.75"/>
<circle cx="498.10" cy="65.00" r="1.75" fill="#fff" stroke="#111" stroke-width="0.75"/>
<circle cx="499.90" cy="65.00" r="1.75" fill="#fff" stroke="#111" stroke-width="0.75"/>
<line x1="497.80" y1="35.60" x2="515.60" y2="35.60" stroke="#111" stroke-width="1.1" />
<line x1="497.80" y1="52.40" x2="506.90" y2="52.40" stroke="#111" stroke-width="1.1" />
<path d="M497.85,28.00L497.85,25.85M497.85,28.00L499.89,27.34M497.85,28.00L499.11,29.74M497.85,28.00L496.59,29.74M497.85,28.00L495.81,27.34" stroke="#111" stroke-width="1.0" stroke-linecap="round"/>
<path d="M503.75,28.00L503.75,25.85M503.75,28.00L505.79,27.34M503.75,28.00L505.01,29.74M503.75,28.00L502.49,29.74M503.75,28.00L501.71,27.34" stroke="#111" stroke-width="1.0" stroke-linecap="round"/>
<path d="M509.65,28.00L509.65,25.85M509.65,28.00L511.69,27.34M509.65,28.00L510.91,29.74M509.65,28.00L508.39,29.74M509.65,28.00L507.61,27.34" stroke="#111" stroke-width="1.0" stroke-linecap="round"/>
<path d="M515.55,28.00L515.55,25.85M515.55,28.00L517.59,27.34M515.55,28.00L516.81,29.74M515.55,28.00L514.29,29.74M515.55,28.00L513.51,27.34" stroke="#111" stroke-width="1.0" stroke-linecap="round"/>
<text x="502.60" y="47.60" font-size="8.2" text-anchor="middle" fill="#000" >ns</text>
<line x1="506.85" y1="163.30" x2="506.85" y2="165.80" stroke="#222" stroke-width="0.9" />
<text transform="translate(511.60,173.9) rotate(-45)" font-size="10.4" font-style="italic" text-anchor="end">BRCA1</text>
<rect x="524.30" y="65.00" width="7.0" height="98.30" fill="#000"/>
<rect x="533.40" y="81.02" width="6.3" height="82.28" fill="#a38d4f" stroke="#222" stroke-width="0.8"/>
<rect x="542.40" y="111.40" width="6.3" height="51.90" fill="#d8cb95" stroke="#222" stroke-width="0.8"/>
<line x1="536.55" y1="71.39" x2="536.55" y2="90.56" stroke="#222" stroke-width="0.8" />
<line x1="534.75" y1="71.39" x2="538.35" y2="71.39" stroke="#222" stroke-width="0.8" />
<line x1="534.75" y1="90.56" x2="538.35" y2="90.56" stroke="#222" stroke-width="0.8" />
<line x1="545.55" y1="105.30" x2="545.55" y2="117.10" stroke="#222" stroke-width="0.8" />
<line x1="543.75" y1="105.30" x2="547.35" y2="105.30" stroke="#222" stroke-width="0.8" />
<line x1="543.75" y1="117.10" x2="547.35" y2="117.10" stroke="#222" stroke-width="0.8" />
<circle cx="535.35" cy="74.14" r="1.75" fill="#fff" stroke="#111" stroke-width="0.75"/>
<circle cx="537.75" cy="74.14" r="1.75" fill="#fff" stroke="#111" stroke-width="0.75"/>
<circle cx="536.55" cy="91.54" r="1.75" fill="#fff" stroke="#111" stroke-width="0.75"/>
<circle cx="546.55" cy="105.01" r="1.75" fill="#fff" stroke="#111" stroke-width="0.75"/>
<circle cx="547.05" cy="112.18" r="1.75" fill="#fff" stroke="#111" stroke-width="0.75"/>
<circle cx="544.35" cy="115.13" r="1.75" fill="#fff" stroke="#111" stroke-width="0.75"/>
<circle cx="526.00" cy="65.00" r="1.75" fill="#fff" stroke="#111" stroke-width="0.75"/>
<circle cx="527.80" cy="65.00" r="1.75" fill="#fff" stroke="#111" stroke-width="0.75"/>
<circle cx="529.60" cy="65.00" r="1.75" fill="#fff" stroke="#111" stroke-width="0.75"/>
<line x1="527.50" y1="35.60" x2="545.30" y2="35.60" stroke="#111" stroke-width="1.1" />
<line x1="527.50" y1="52.40" x2="536.60" y2="52.40" stroke="#111" stroke-width="1.1" />
<path d="M533.45,28.00L533.45,25.85M533.45,28.00L535.49,27.34M533.45,28.00L534.71,29.74M533.45,28.00L532.19,29.74M533.45,28.00L531.41,27.34" stroke="#111" stroke-width="1.0" stroke-linecap="round"/>
<path d="M539.35,28.00L539.35,25.85M539.35,28.00L541.39,27.34M539.35,28.00L540.61,29.74M539.35,28.00L538.09,29.74M539.35,28.00L537.31,27.34" stroke="#111" stroke-width="1.0" stroke-linecap="round"/>
<text x="532.30" y="47.60" font-size="8.2" text-anchor="middle" fill="#000" >ns</text>
<line x1="536.55" y1="163.30" x2="536.55" y2="165.80" stroke="#222" stroke-width="0.9" />
<text transform="translate(541.30,173.9) rotate(-45)" font-size="10.4" font-style="italic" text-anchor="end">RAD51</text>
<rect x="554.00" y="65.00" width="7.0" height="98.30" fill="#000"/>
<rect x="563.10" y="86.33" width="6.3" height="76.97" fill="#a38d4f" stroke="#222" stroke-width="0.8"/>
<rect x="572.10" y="129.48" width="6.3" height="33.82" fill="#d8cb95" stroke="#222" stroke-width="0.8"/>
<line x1="566.25" y1="61.36" x2="566.25" y2="110.12" stroke="#222" stroke-width="0.8" />
<line x1="564.45" y1="61.36" x2="568.05" y2="61.36" stroke="#222" stroke-width="0.8" />
<line x1="564.45" y1="110.12" x2="568.05" y2="110.12" stroke="#222" stroke-width="0.8" />
<line x1="575.25" y1="124.96" x2="575.25" y2="133.81" stroke="#222" stroke-width="0.8" />
<line x1="573.45" y1="124.96" x2="577.05" y2="124.96" stroke="#222" stroke-width="0.8" />
<line x1="573.45" y1="133.81" x2="577.05" y2="133.81" stroke="#222" stroke-width="0.8" />
<circle cx="566.25" cy="57.73" r="1.75" fill="#fff" stroke="#111" stroke-width="0.75"/>
<circle cx="566.25" cy="98.13" r="1.75" fill="#fff" stroke="#111" stroke-width="0.75"/>
<circle cx="566.25" cy="102.65" r="1.75" fill="#fff" stroke="#111" stroke-width="0.75"/>
<circle cx="575.75" cy="124.57" r="1.75" fill="#fff" stroke="#111" stroke-width="0.75"/>
<circle cx="576.75" cy="130.47" r="1.75" fill="#fff" stroke="#111" stroke-width="0.75"/>
<circle cx="574.25" cy="132.34" r="1.75" fill="#fff" stroke="#111" stroke-width="0.75"/>
<circle cx="555.70" cy="65.00" r="1.75" fill="#fff" stroke="#111" stroke-width="0.75"/>
<circle cx="557.50" cy="65.00" r="1.75" fill="#fff" stroke="#111" stroke-width="0.75"/>
<circle cx="559.30" cy="65.00" r="1.75" fill="#fff" stroke="#111" stroke-width="0.75"/>
<line x1="557.20" y1="35.60" x2="575.00" y2="35.60" stroke="#111" stroke-width="1.1" />
<line x1="557.20" y1="52.40" x2="566.30" y2="52.40" stroke="#111" stroke-width="1.1" />
<path d="M560.20,28.00L560.20,25.85M560.20,28.00L562.24,27.34M560.20,28.00L561.46,29.74M560.20,28.00L558.94,29.74M560.20,28.00L558.16,27.34" stroke="#111" stroke-width="1.0" stroke-linecap="round"/>
<path d="M566.10,28.00L566.10,25.85M566.10,28.00L568.14,27.34M566.10,28.00L567.36,29.74M566.10,28.00L564.84,29.74M566.10,28.00L564.06,27.34" stroke="#111" stroke-width="1.0" stroke-linecap="round"/>
<path d="M572.00,28.00L572.00,25.85M572.00,28.00L574.04,27.34M572.00,28.00L573.26,29.74M572.00,28.00L570.74,29.74M572.00,28.00L569.96,27.34" stroke="#111" stroke-width="1.0" stroke-linecap="round"/>
<text x="562.00" y="47.60" font-size="8.2" text-anchor="middle" fill="#000" >ns</text>
<line x1="566.25" y1="163.30" x2="566.25" y2="165.80" stroke="#222" stroke-width="0.9" />
<text transform="translate(571.00,173.9) rotate(-45)" font-size="10.4" font-style="italic" text-anchor="end">ATM</text>
<rect x="583.70" y="65.00" width="7.0" height="98.30" fill="#000"/>
<rect x="592.80" y="87.41" width="6.3" height="75.89" fill="#a38d4f" stroke="#222" stroke-width="0.8"/>
<rect x="601.80" y="134.10" width="6.3" height="29.20" fill="#d8cb95" stroke="#222" stroke-width="0.8"/>
<line x1="595.95" y1="79.45" x2="595.95" y2="95.47" stroke="#222" stroke-width="0.8" />
<line x1="594.15" y1="79.45" x2="597.75" y2="79.45" stroke="#222" stroke-width="0.8" />
<line x1="594.15" y1="95.47" x2="597.75" y2="95.47" stroke="#222" stroke-width="0.8" />
<line x1="604.95" y1="129.88" x2="604.95" y2="138.73" stroke="#222" stroke-width="0.8" />
<line x1="603.15" y1="129.88" x2="606.75" y2="129.88" stroke="#222" stroke-width="0.8" />
<line x1="603.15" y1="138.73" x2="606.75" y2="138.73" stroke="#222" stroke-width="0.8" />
<circle cx="595.95" cy="76.80" r="1.75" fill="#fff" stroke="#111" stroke-width="0.75"/>
<circle cx="594.95" cy="90.56" r="1.75" fill="#fff" stroke="#111" stroke-width="0.75"/>
<circle cx="596.95" cy="93.21" r="1.75" fill="#fff" stroke="#111" stroke-width="0.75"/>
<circle cx="605.45" cy="129.48" r="1.75" fill="#fff" stroke="#111" stroke-width="0.75"/>
<circle cx="603.95" cy="132.34" r="1.75" fill="#fff" stroke="#111" stroke-width="0.75"/>
<circle cx="604.95" cy="139.51" r="1.75" fill="#fff" stroke="#111" stroke-width="0.75"/>
<circle cx="585.40" cy="65.00" r="1.75" fill="#fff" stroke="#111" stroke-width="0.75"/>
<circle cx="587.20" cy="65.00" r="1.75" fill="#fff" stroke="#111" stroke-width="0.75"/>
<circle cx="589.00" cy="65.00" r="1.75" fill="#fff" stroke="#111" stroke-width="0.75"/>
<line x1="586.90" y1="35.60" x2="604.70" y2="35.60" stroke="#111" stroke-width="1.1" />
<line x1="586.90" y1="52.40" x2="596.00" y2="52.40" stroke="#111" stroke-width="1.1" />
<path d="M592.85,28.00L592.85,25.85M592.85,28.00L594.89,27.34M592.85,28.00L594.11,29.74M592.85,28.00L591.59,29.74M592.85,28.00L590.81,27.34" stroke="#111" stroke-width="1.0" stroke-linecap="round"/>
<path d="M598.75,28.00L598.75,25.85M598.75,28.00L600.79,27.34M598.75,28.00L600.01,29.74M598.75,28.00L597.49,29.74M598.75,28.00L596.71,27.34" stroke="#111" stroke-width="1.0" stroke-linecap="round"/>
<text x="591.70" y="47.60" font-size="8.2" text-anchor="middle" fill="#000" >ns</text>
<line x1="595.95" y1="163.30" x2="595.95" y2="165.80" stroke="#222" stroke-width="0.9" />
<text transform="translate(600.70,173.9) rotate(-45)" font-size="10.4" font-style="italic" text-anchor="end">XRCC2</text>
<rect x="613.40" y="65.00" width="7.0" height="98.30" fill="#000"/>
<rect x="622.50" y="82.30" width="6.3" height="81.00" fill="#a38d4f" stroke="#222" stroke-width="0.8"/>
<rect x="631.50" y="120.54" width="6.3" height="42.76" fill="#d8cb95" stroke="#222" stroke-width="0.8"/>
<line x1="625.65" y1="60.48" x2="625.65" y2="102.65" stroke="#222" stroke-width="0.8" />
<line x1="623.85" y1="60.48" x2="627.45" y2="60.48" stroke="#222" stroke-width="0.8" />
<line x1="623.85" y1="102.65" x2="627.45" y2="102.65" stroke="#222" stroke-width="0.8" />
<line x1="634.65" y1="114.15" x2="634.65" y2="126.93" stroke="#222" stroke-width="0.8" />
<line x1="632.85" y1="114.15" x2="636.45" y2="114.15" stroke="#222" stroke-width="0.8" />
<line x1="632.85" y1="126.93" x2="636.45" y2="126.93" stroke="#222" stroke-width="0.8" />
<circle cx="625.65" cy="58.32" r="1.75" fill="#fff" stroke="#111" stroke-width="0.75"/>
<circle cx="625.65" cy="90.75" r="1.75" fill="#fff" stroke="#111" stroke-width="0.75"/>
<circle cx="625.65" cy="97.24" r="1.75" fill="#fff" stroke="#111" stroke-width="0.75"/>
<circle cx="634.65" cy="113.17" r="1.75" fill="#fff" stroke="#111" stroke-width="0.75"/>
<circle cx="634.65" cy="120.54" r="1.75" fill="#fff" stroke="#111" stroke-width="0.75"/>
<circle cx="634.65" cy="124.96" r="1.75" fill="#fff" stroke="#111" stroke-width="0.75"/>
<circle cx="615.10" cy="65.00" r="1.75" fill="#fff" stroke="#111" stroke-width="0.75"/>
<circle cx="616.90" cy="65.00" r="1.75" fill="#fff" stroke="#111" stroke-width="0.75"/>
<circle cx="618.70" cy="65.00" r="1.75" fill="#fff" stroke="#111" stroke-width="0.75"/>
<line x1="616.60" y1="35.60" x2="634.40" y2="35.60" stroke="#111" stroke-width="1.1" />
<line x1="616.60" y1="52.40" x2="625.70" y2="52.40" stroke="#111" stroke-width="1.1" />
<path d="M622.55,28.00L622.55,25.85M622.55,28.00L624.59,27.34M622.55,28.00L623.81,29.74M622.55,28.00L621.29,29.74M622.55,28.00L620.51,27.34" stroke="#111" stroke-width="1.0" stroke-linecap="round"/>
<path d="M628.45,28.00L628.45,25.85M628.45,28.00L630.49,27.34M628.45,28.00L629.71,29.74M628.45,28.00L627.19,29.74M628.45,28.00L626.41,27.34" stroke="#111" stroke-width="1.0" stroke-linecap="round"/>
<text x="621.40" y="47.60" font-size="8.2" text-anchor="middle" fill="#000" >ns</text>
<line x1="625.65" y1="163.30" x2="625.65" y2="165.80" stroke="#222" stroke-width="0.9" />
<text transform="translate(630.40,173.9) rotate(-45)" font-size="10.4" font-style="italic" text-anchor="end">FANCI</text>
<rect x="643.10" y="65.00" width="7.0" height="98.30" fill="#000"/>
<rect x="652.20" y="85.64" width="6.3" height="77.66" fill="#a38d4f" stroke="#222" stroke-width="0.8"/>
<rect x="661.20" y="115.92" width="6.3" height="47.38" fill="#d8cb95" stroke="#222" stroke-width="0.8"/>
<line x1="655.35" y1="79.75" x2="655.35" y2="91.54" stroke="#222" stroke-width="0.8" />
<line x1="653.55" y1="79.75" x2="657.15" y2="79.75" stroke="#222" stroke-width="0.8" />
<line x1="653.55" y1="91.54" x2="657.15" y2="91.54" stroke="#222" stroke-width="0.8" />
<circle cx="655.35" cy="78.76" r="1.75" fill="#fff" stroke="#111" stroke-width="0.75"/>
<circle cx="654.15" cy="88.59" r="1.75" fill="#fff" stroke="#111" stroke-width="0.75"/>
<circle cx="656.55" cy="88.59" r="1.75" fill="#fff" stroke="#111" stroke-width="0.75"/>
<circle cx="663.15" cy="116.80" r="1.75" fill="#fff" stroke="#111" stroke-width="0.75"/>
<circle cx="664.85" cy="115.13" r="1.75" fill="#fff" stroke="#111" stroke-width="0.75"/>
<circle cx="665.85" cy="113.46" r="1.75" fill="#fff" stroke="#111" stroke-width="0.75"/>
<circle cx="644.80" cy="65.00" r="1.75" fill="#fff" stroke="#111" stroke-width="0.75"/>
<circle cx="646.60" cy="65.00" r="1.75" fill="#fff" stroke="#111" stroke-width="0.75"/>
<circle cx="648.40" cy="65.00" r="1.75" fill="#fff" stroke="#111" stroke-width="0.75"/>
<line x1="646.30" y1="35.60" x2="664.10" y2="35.60" stroke="#111" stroke-width="1.1" />
<line x1="646.30" y1="52.40" x2="655.40" y2="52.40" stroke="#111" stroke-width="1.1" />
<path d="M646.35,28.00L646.35,25.85M646.35,28.00L648.39,27.34M646.35,28.00L647.61,29.74M646.35,28.00L645.09,29.74M646.35,28.00L644.31,27.34" stroke="#111" stroke-width="1.0" stroke-linecap="round"/>
<path d="M652.25,28.00L652.25,25.85M652.25,28.00L654.29,27.34M652.25,28.00L653.51,29.74M652.25,28.00L650.99,29.74M652.25,28.00L650.21,27.34" stroke="#111" stroke-width="1.0" stroke-linecap="round"/>
<path d="M658.15,28.00L658.15,25.85M658.15,28.00L660.19,27.34M658.15,28.00L659.41,29.74M658.15,28.00L656.89,29.74M658.15,28.00L656.11,27.34" stroke="#111" stroke-width="1.0" stroke-linecap="round"/>
<path d="M664.05,28.00L664.05,25.85M664.05,28.00L666.09,27.34M664.05,28.00L665.31,29.74M664.05,28.00L662.79,29.74M664.05,28.00L662.01,27.34" stroke="#111" stroke-width="1.0" stroke-linecap="round"/>
<path d="M650.50,45.60L650.50,43.45M650.50,45.60L652.54,44.94M650.50,45.60L651.76,47.34M650.50,45.60L649.24,47.34M650.50,45.60L648.46,44.94" stroke="#111" stroke-width="1.0" stroke-linecap="round"/>
<line x1="655.35" y1="163.30" x2="655.35" y2="165.80" stroke="#222" stroke-width="0.9" />
<text transform="translate(660.10,173.9) rotate(-45)" font-size="10.4" font-style="italic" text-anchor="end">FANCD2</text>
<text x="79.00" y="213.68" font-size="10" text-anchor="middle" fill="#000" >SR-4835</text>
<line x1="43.00" y1="217.60" x2="111.00" y2="217.60" stroke="#111" stroke-width="1.1" />
<text x="31.40" y="233.78" font-size="10" text-anchor="middle" fill="#000" >-</text>
<text transform="translate(57.30,230.50) rotate(-55)" font-size="10" text-anchor="middle" dy="3.4">50</text>
<text transform="translate(78.60,230.50) rotate(-55)" font-size="10" text-anchor="middle" dy="3.4">100</text>
<text transform="translate(99.60,230.50) rotate(-55)" font-size="10" text-anchor="middle" dy="3.4">200</text>
<text x="116.30" y="234.68" font-size="10" text-anchor="start" fill="#000" >(nM)</text>
<rect x="19.2" y="242.2" width="93.7" height="28.0" fill="#c2c2c2"/>
<rect x="19.2" y="272.1" width="93.7" height="27.8" fill="#c2c2c2"/>
<rect x="19.2" y="302.4" width="93.7" height="28.1" fill="#c2c2c2"/>
<rect x="19.2" y="333.0" width="93.7" height="27.5" fill="#c2c2c2"/>
<rect x="19.2" y="363.4" width="93.7" height="28.0" fill="#c2c2c2"/>
<path d="M22.70,256.60 Q22.70,253.40 25.90,253.40 Q31.60,253.40 37.30,253.40 Q40.50,253.40 40.50,256.60 L40.50,256.60 Q40.50,259.80 37.30,259.80 Q31.60,259.80 25.90,259.80 Q22.70,259.80 22.70,256.60 Z" fill="#1a1a1a" opacity="0.9" filter="url(#bl)"/>
<path d="M22.70,267.00 Q22.70,264.60 25.10,264.60 Q31.60,264.60 38.10,264.60 Q40.50,264.60 40.50,267.00 L40.50,267.00 Q40.50,269.40 38.10,269.40 Q31.60,269.40 25.10,269.40 Q22.70,269.40 22.70,267.00 Z" fill="#1a1a1a" opacity="0.75" filter="url(#bl2)"/>
<path d="M22.70,246.50 Q22.70,244.75 24.45,244.75 Q31.60,244.75 38.75,244.75 Q40.50,244.75 40.50,246.50 L40.50,246.50 Q40.50,248.25 38.75,248.25 Q31.60,248.25 24.45,248.25 Q22.70,248.25 22.70,246.50 Z" fill="#1a1a1a" opacity="0.3" filter="url(#bl2)"/>
<path d="M45.50,256.60 Q45.50,253.40 48.70,253.40 Q54.15,253.40 59.60,253.40 Q62.80,253.40 62.80,256.60 L62.80,256.60 Q62.80,259.80 59.60,259.80 Q54.15,259.80 48.70,259.80 Q45.50,259.80 45.50,256.60 Z" fill="#1a1a1a" opacity="0.765" filter="url(#bl)"/>
<path d="M45.50,267.00 Q45.50,264.60 47.90,264.60 Q54.15,264.60 60.40,264.60 Q62.80,264.60 62.80,267.00 L62.80,267.00 Q62.80,269.40 60.40,269.40 Q54.15,269.40 47.90,269.40 Q45.50,269.40 45.50,267.00 Z" fill="#1a1a1a" opacity="0.5" filter="url(#bl2)"/>
<path d="M45.50,246.50 Q45.50,244.75 47.25,244.75 Q54.15,244.75 61.05,244.75 Q62.80,244.75 62.80,246.50 L62.80,246.50 Q62.80,248.25 61.05,248.25 Q54.15,248.25 47.25,248.25 Q45.50,248.25 45.50,246.50 Z" fill="#1a1a1a" opacity="0.15" filter="url(#bl2)"/>
<path d="M68.30,256.60 Q68.30,253.40 71.50,253.40 Q76.75,253.40 82.00,253.40 Q85.20,253.40 85.20,256.60 L85.20,256.60 Q85.20,259.80 82.00,259.80 Q76.75,259.80 71.50,259.80 Q68.30,259.80 68.30,256.60 Z" fill="#1a1a1a" opacity="0.675" filter="url(#bl)"/>
<path d="M68.30,267.00 Q68.30,264.60 70.70,264.60 Q76.75,264.60 82.80,264.60 Q85.20,264.60 85.20,267.00 L85.20,267.00 Q85.20,269.40 82.80,269.40 Q76.75,269.40 70.70,269.40 Q68.30,269.40 68.30,267.00 Z" fill="#1a1a1a" opacity="0.55" filter="url(#bl2)"/>
<path d="M68.30,246.50 Q68.30,244.75 70.05,244.75 Q76.75,244.75 83.45,244.75 Q85.20,244.75 85.20,246.50 L85.20,246.50 Q85.20,248.25 83.45,248.25 Q76.75,248.25 70.05,248.25 Q68.30,248.25 68.30,246.50 Z" fill="#1a1a1a" opacity="0.15" filter="url(#bl2)"/>
<path d="M91.00,256.60 Q91.00,253.40 94.20,253.40 Q99.60,253.40 105.00,253.40 Q108.20,253.40 108.20,256.60 L108.20,256.60 Q108.20,259.80 105.00,259.80 Q99.60,259.80 94.20,259.80 Q91.00,259.80 91.00,256.60 Z" fill="#1a1a1a" opacity="0.49500000000000005" filter="url(#bl)"/>
<path d="M91.00,267.00 Q91.00,264.60 93.40,264.60 Q99.60,264.60 105.80,264.60 Q108.20,264.60 108.20,267.00 L108.20,267.00 Q108.20,269.40 105.80,269.40 Q99.60,269.40 93.40,269.40 Q91.00,269.40 91.00,267.00 Z" fill="#1a1a1a" opacity="0.35" filter="url(#bl2)"/>
<path d="M91.00,246.50 Q91.00,244.75 92.75,244.75 Q99.60,244.75 106.45,244.75 Q108.20,244.75 108.20,246.50 L108.20,246.50 Q108.20,248.25 106.45,248.25 Q99.60,248.25 92.75,248.25 Q91.00,248.25 91.00,246.50 Z" fill="#1a1a1a" opacity="0.1" filter="url(#bl2)"/>
<path d="M23.20,285.60 Q23.20,282.30 26.50,282.30 Q31.85,282.30 37.20,282.30 Q40.50,282.30 40.50,285.60 L40.50,285.60 Q40.50,288.90 37.20,288.90 Q31.85,288.90 26.50,288.90 Q23.20,288.90 23.20,285.60 Z" fill="#1a1a1a" opacity="1" filter="url(#bl)"/>
<path d="M46.00,285.60 Q46.00,283.20 48.40,283.20 Q54.40,283.20 60.40,283.20 Q62.80,283.20 62.80,285.60 L62.80,285.60 Q62.80,288.00 60.40,288.00 Q54.40,288.00 48.40,288.00 Q46.00,288.00 46.00,285.60 Z" fill="#1a1a1a" opacity="0.9" filter="url(#bl)"/>
<path d="M68.80,285.60 Q68.80,283.20 71.20,283.20 Q77.00,283.20 82.80,283.20 Q85.20,283.20 85.20,285.60 L85.20,285.60 Q85.20,288.00 82.80,288.00 Q77.00,288.00 71.20,288.00 Q68.80,288.00 68.80,285.60 Z" fill="#1a1a1a" opacity="0.9" filter="url(#bl)"/>
<path d="M91.50,285.60 Q91.50,283.60 93.50,283.60 Q99.85,283.60 106.20,283.60 Q108.20,283.60 108.20,285.60 L108.20,285.60 Q108.20,287.60 106.20,287.60 Q99.85,287.60 93.50,287.60 Q91.50,287.60 91.50,285.60 Z" fill="#1a1a1a" opacity="0.75" filter="url(#bl)"/>
<path d="M24.00,318.10 Q24.00,313.30 28.80,313.30 Q35.25,311.86 41.70,313.30 Q46.50,313.30 46.50,318.10 L46.50,318.10 Q46.50,322.90 41.70,322.90 Q35.25,324.34 28.80,322.90 Q24.00,322.90 24.00,318.10 Z" fill="#1a1a1a" opacity="1.0" filter="url(#bl)"/>
<path d="M43.50,317.80 Q43.50,312.90 48.40,312.90 Q55.15,311.43 61.90,312.90 Q66.80,312.90 66.80,317.80 L66.80,317.80 Q66.80,322.70 61.90,322.70 Q55.15,324.17 48.40,322.70 Q43.50,322.70 43.50,317.80 Z" fill="#1a1a1a" opacity="1.0" filter="url(#bl)"/>
<path d="M71.50,317.50 Q71.50,315.40 73.60,315.40 Q74.50,315.40 75.40,315.40 Q77.50,315.40 77.50,317.50 L77.50,317.50 Q77.50,319.60 75.40,319.60 Q74.50,319.60 73.60,319.60 Q71.50,319.60 71.50,317.50 Z" fill="#1a1a1a" opacity="0.8" filter="url(#bl)"/>
<path d="M76.50,317.80 Q76.50,315.80 78.50,315.80 Q79.00,315.80 79.50,315.80 Q81.50,315.80 81.50,317.80 L81.50,317.80 Q81.50,319.80 79.50,319.80 Q79.00,319.80 78.50,319.80 Q76.50,319.80 76.50,317.80 Z" fill="#1a1a1a" opacity="0.8" filter="url(#bl)"/>
<path d="M81.00,318.60 Q81.00,316.10 83.50,316.10 Q84.50,316.10 85.50,316.10 Q88.00,316.10 88.00,318.60 L88.00,318.60 Q88.00,321.10 85.50,321.10 Q84.50,321.10 83.50,321.10 Q81.00,321.10 81.00,318.60 Z" fill="#1a1a1a" opacity="0.9" filter="url(#bl)"/>
<path d="M91.50,317.40 Q91.50,315.40 93.50,315.40 Q94.25,315.40 95.00,315.40 Q97.00,315.40 97.00,317.40 L97.00,317.40 Q97.00,319.40 95.00,319.40 Q94.25,319.40 93.50,319.40 Q91.50,319.40 91.50,317.40 Z" fill="#1a1a1a" opacity="0.85" filter="url(#bl)"/>
<path d="M98.50,318.20 Q98.50,316.60 100.10,316.60 Q100.50,316.60 100.90,316.60 Q102.50,316.60 102.50,318.20 L102.50,318.20 Q102.50,319.80 100.90,319.80 Q100.50,319.80 100.10,319.80 Q98.50,319.80 98.50,318.20 Z" fill="#1a1a1a" opacity="0.7" filter="url(#bl)"/>
<path d="M102.50,318.80 Q102.50,317.30 104.00,317.30 Q104.50,317.30 105.00,317.30 Q106.50,317.30 106.50,318.80 L106.50,318.80 Q106.50,320.30 105.00,320.30 Q104.50,320.30 104.00,320.30 Q102.50,320.30 102.50,318.80 Z" fill="#1a1a1a" opacity="0.6" filter="url(#bl)"/>
<path d="M21.00,345.40 Q21.00,343.15 23.25,343.15 Q29.15,343.15 35.05,343.15 Q37.30,343.15 37.30,345.40 L37.30,345.40 Q37.30,347.65 35.05,347.65 Q29.15,347.65 23.25,347.65 Q21.00,347.65 21.00,345.40 Z" fill="#1a1a1a" opacity="0.35" filter="url(#bl2)"/>
<path d="M45.00,346.40 Q45.00,344.65 46.75,344.65 Q51.60,344.65 56.45,344.65 Q58.20,344.65 58.20,346.40 L58.20,346.40 Q58.20,348.15 56.45,348.15 Q51.60,348.15 46.75,348.15 Q45.00,348.15 45.00,346.40 Z" fill="#1a1a1a" opacity="0.15" filter="url(#bl2)"/>
<path d="M64.00,346.40 Q64.00,343.40 67.00,343.40 Q72.25,343.40 77.50,343.40 Q80.50,343.40 80.50,346.40 L80.50,346.40 Q80.50,349.40 77.50,349.40 Q72.25,349.40 67.00,349.40 Q64.00,349.40 64.00,346.40 Z" fill="#1a1a1a" opacity="0.8" filter="url(#bl)"/>
<path d="M84.2,346 C84.2,341.6 91,340.8 99,341 C105,341.2 109,343.2 111.2,346.6 C107.5,347.2 103,347.6 97,348.4 C90.5,349.3 84.2,350 84.2,346 Z" fill="#1e1e1e" filter="url(#bl)"/>
<path d="M23.90,377.90 Q23.90,372.80 29.00,372.80 Q33.00,372.80 37.00,372.80 Q42.10,372.80 42.10,377.90 L42.10,377.90 Q42.10,383.00 37.00,383.00 Q33.00,383.00 29.00,383.00 Q23.90,383.00 23.90,377.90 Z" fill="#1a1a1a" opacity="1.0" filter="url(#bl)"/>
<path d="M44.20,377.90 Q44.20,372.80 49.30,372.80 Q54.15,372.80 59.00,372.80 Q64.10,372.80 64.10,377.90 L64.10,377.90 Q64.10,383.00 59.00,383.00 Q54.15,383.00 49.30,383.00 Q44.20,383.00 44.20,377.90 Z" fill="#1a1a1a" opacity="1.0" filter="url(#bl)"/>
<path d="M66.90,377.90 Q66.90,372.80 72.00,372.80 Q76.95,372.80 81.90,372.80 Q87.00,372.80 87.00,377.90 L87.00,377.90 Q87.00,383.00 81.90,383.00 Q76.95,383.00 72.00,383.00 Q66.90,383.00 66.90,377.90 Z" fill="#1a1a1a" opacity="1.0" filter="url(#bl)"/>
<path d="M88.00,377.90 Q88.00,372.80 93.10,372.80 Q97.20,372.80 101.30,372.80 Q106.40,372.80 106.40,377.90 L106.40,377.90 Q106.40,383.00 101.30,383.00 Q97.20,383.00 93.10,383.00 Q88.00,383.00 88.00,377.90 Z" fill="#1a1a1a" opacity="1.0" filter="url(#bl)"/>
<text x="134.40" y="259.88" font-size="10" text-anchor="middle" fill="#000" >BRCA1</text>
<text x="134.40" y="291.08" font-size="10" text-anchor="middle" fill="#000" >ATM</text>
<text x="134.40" y="321.18" font-size="10" text-anchor="middle" fill="#000" >RAD51</text>
<text x="134.40" y="351.58" font-size="10" text-anchor="middle" fill="#000" >γH2AX</text>
<text x="134.40" y="383.58" font-size="10" text-anchor="middle" fill="#000" >Tubulin</text>
<text x="65.20" y="400.88" font-size="10" text-anchor="middle" fill="#000" >A375</text>
<circle cx="201.5" cy="214.7" r="8.2" fill="#fff" stroke="#666" stroke-width="0.85"/>
<rect x="195.70" y="207.00" width="11.6" height="2.9" rx="1" fill="#3aa865"/>
<circle cx="228.0" cy="214.7" r="8.2" fill="#fff" stroke="#666" stroke-width="0.85"/>
<rect x="222.20" y="207.00" width="11.6" height="2.9" rx="1" fill="#c8434a"/>
<circle cx="189.2" cy="231.9" r="8.2" fill="#fff" stroke="#666" stroke-width="0.85"/>
<rect x="183.40" y="224.20" width="11.6" height="2.9" rx="1" fill="#3f7fbf"/>
<circle cx="213.9" cy="231.9" r="8.2" fill="#fff" stroke="#666" stroke-width="0.85"/>
<rect x="208.10" y="224.20" width="11.6" height="2.9" rx="1" fill="#111"/>
<circle cx="238.6" cy="231.9" r="8.2" fill="#fff" stroke="#666" stroke-width="0.85"/>
<rect x="232.80" y="224.20" width="11.6" height="2.9" rx="1" fill="#d4ac2c"/>
<text x="283.80" y="215.19" font-size="10.3" text-anchor="middle" fill="#000" >Genome-wide</text>
<text x="283.80" y="227.59" font-size="10.3" text-anchor="middle" fill="#000" >gRNA library</text>
<text x="283.80" y="239.29" font-size="10.3" text-anchor="middle" fill="#000" >(TKOv3)</text>
<text x="356.40" y="268.89" font-size="10.3" text-anchor="middle" fill="#000" >Lentiviral</text>
<text x="356.40" y="281.29" font-size="10.3" text-anchor="middle" fill="#000" >transduction</text>
<text x="356.40" y="292.99" font-size="10.3" text-anchor="middle" fill="#000" >(0.3 MOI)</text>
<defs>
<linearGradient id="g1" gradientUnits="userSpaceOnUse" x1="216" y1="249" x2="243" y2="277"><stop offset="0" stop-color="#000" stop-opacity="0"/><stop offset="0.55" stop-color="#000" stop-opacity="0.75"/><stop offset="1" stop-color="#000"/></linearGradient>
<linearGradient id="g2" gradientUnits="userSpaceOnUse" x1="265" y1="0" x2="291" y2="0"><stop offset="0" stop-color="#000" stop-opacity="0"/><stop offset="1" stop-color="#000"/></linearGradient>
<linearGradient id="g3" gradientUnits="userSpaceOnUse" x1="0" y1="322" x2="0" y2="337"><stop offset="0" stop-color="#000" stop-opacity="0"/><stop offset="1" stop-color="#000"/></linearGradient>
<linearGradient id="g4" gradientUnits="userSpaceOnUse" x1="388" y1="0" x2="436" y2="0"><stop offset="0" stop-color="#000" stop-opacity="0"/><stop offset="0.3" stop-color="#000" stop-opacity="0.08"/><stop offset="0.48" stop-color="#000" stop-opacity="0.4"/><stop offset="0.6" stop-color="#000" stop-opacity="0.9"/><stop offset="1" stop-color="#000"/></linearGradient>
<linearGradient id="g5" gradientUnits="userSpaceOnUse" x1="542" y1="0" x2="566" y2="0"><stop offset="0" stop-color="#000" stop-opacity="0"/><stop offset="0.45" stop-color="#000" stop-opacity="0.35"/><stop offset="0.75" stop-color="#000" stop-opacity="0.9"/><stop offset="1" stop-color="#000"/></linearGradient>
</defs>
<path d="M216.8,249 C216.8,265 228,277.5 243.5,277.5" fill="none" stroke="url(#g1)" stroke-width="2.3"/>
<polygon points="242.50,272.80 252.00,277.50 242.50,282.20" fill="#000" transform="rotate(0 252.00 277.50)"/>
<path d="M265,336.7 L291,336.7" fill="none" stroke="url(#g2)" stroke-width="2.3"/>
<path d="M274.7,322.3 C275,331 281,336.7 291,336.7" fill="none" stroke="url(#g3)" stroke-width="2.3"/>
<polygon points="290.20,331.90 300.20,336.70 290.20,341.50" fill="#000" transform="rotate(0 300.20 336.70)"/>
<path d="M387,335.6 C406,332 410.5,324 411,313 C411.5,300 421,294 435,293.2" fill="none" stroke="url(#g4)" stroke-width="2.4"/>
<path d="M387,337.2 C406,341 410.5,349 411,360 C411.5,373 421,378.5 435,379.5" fill="none" stroke="url(#g4)" stroke-width="2.4"/>
<polygon points="433.50,288.00 443.00,292.60 433.50,297.20" fill="#000" transform="rotate(-4 443.00 292.60)"/>
<polygon points="433.50,375.60 443.00,380.20 433.50,384.80" fill="#000" transform="rotate(4 443.00 380.20)"/>
<path d="M542.4,298.2 C550,298.6 554.8,302 554.8,310 L554.8,323 C554.8,331 558,334.8 566,334.8 L575.5,334.8" fill="none" stroke="url(#g5)" stroke-width="2.4"/>
<path d="M542.4,371.6 C550,371.2 554.8,367.6 554.8,360 L554.8,347 C554.8,339 558,334.8 566,334.8" fill="none" stroke="url(#g5)" stroke-width="2.4"/>
<polygon points="574.80,329.90 584.80,334.80 574.80,339.70" fill="#000" transform="rotate(0 584.80 334.80)"/>
<text x="623.60" y="316.65" font-size="10.2" text-anchor="middle" fill="#000" >Deep sequencing</text>
<text x="623.60" y="328.65" font-size="10.2" text-anchor="middle" fill="#000" >on D7 and D14</text>
<text x="623.60" y="349.25" font-size="10.2" text-anchor="middle" fill="#000" >Identification of</text>
<text x="623.60" y="361.65" font-size="10.2" text-anchor="middle" fill="#000" >SR-4835 resistance</text>
<text x="623.60" y="373.65" font-size="10.2" text-anchor="middle" fill="#000" >and sensitivity genes</text>
<path d="M280.67,262.04L281.02,259.16M282.53,262.60L283.21,261.27M284.09,263.77L286.20,261.79M285.15,265.40L286.53,264.81M285.59,267.29L288.49,267.14M285.36,269.23L286.79,269.66M284.48,270.96L286.80,272.70M283.06,272.29L283.88,273.55M281.27,273.05L281.93,275.88M279.33,273.16L279.15,274.65M277.47,272.60L276.16,275.18M275.91,271.43L274.82,272.45M274.85,269.80L272.18,270.94M274.41,267.91L272.91,267.99M274.64,265.97L271.87,265.13M275.52,264.24L274.32,263.34M276.94,262.91L275.36,260.48M278.73,262.15L278.39,260.69" stroke="#444" stroke-width="0.65"/>
<circle cx="281.02" cy="259.16" r="1.1" fill="#333"/><circle cx="283.21" cy="261.27" r="0.85" fill="#333"/><circle cx="286.20" cy="261.79" r="1.1" fill="#333"/><circle cx="286.53" cy="264.81" r="0.85" fill="#333"/><circle cx="288.49" cy="267.14" r="1.1" fill="#333"/><circle cx="286.79" cy="269.66" r="0.85" fill="#333"/><circle cx="286.80" cy="272.70" r="1.1" fill="#333"/><circle cx="283.88" cy="273.55" r="0.85" fill="#333"/><circle cx="281.93" cy="275.88" r="1.1" fill="#333"/><circle cx="279.15" cy="274.65" r="0.85" fill="#333"/><circle cx="276.16" cy="275.18" r="1.1" fill="#333"/><circle cx="274.82" cy="272.45" r="0.85" fill="#333"/><circle cx="272.18" cy="270.94" r="1.1" fill="#333"/><circle cx="272.91" cy="267.99" r="0.85" fill="#333"/><circle cx="271.87" cy="265.13" r="1.1" fill="#333"/><circle cx="274.32" cy="263.34" r="0.85" fill="#333"/><circle cx="275.36" cy="260.48" r="1.1" fill="#333"/><circle cx="278.39" cy="260.69" r="0.85" fill="#333"/>
<circle cx="280" cy="267.6" r="5.5" fill="#fff" stroke="#333" stroke-width="1.2"/>
<circle cx="280" cy="267.6" r="4.1" fill="#d4ac2c"/>
<path d="M303.87,260.74L304.22,257.86M305.73,261.30L306.41,259.97M307.29,262.47L309.40,260.49M308.35,264.10L309.73,263.51M308.79,265.99L311.69,265.84M308.56,267.93L309.99,268.36M307.68,269.66L310.00,271.40M306.26,270.99L307.08,272.25M304.47,271.75L305.13,274.58M302.53,271.86L302.35,273.35M300.67,271.30L299.36,273.88M299.11,270.13L298.02,271.15M298.05,268.50L295.38,269.64M297.61,266.61L296.11,266.69M297.84,264.67L295.07,263.83M298.72,262.94L297.52,262.04M300.14,261.61L298.56,259.18M301.93,260.85L301.59,259.39" stroke="#444" stroke-width="0.65"/>
<circle cx="304.22" cy="257.86" r="1.1" fill="#333"/><circle cx="306.41" cy="259.97" r="0.85" fill="#333"/><circle cx="309.40" cy="260.49" r="1.1" fill="#333"/><circle cx="309.73" cy="263.51" r="0.85" fill="#333"/><circle cx="311.69" cy="265.84" r="1.1" fill="#333"/><circle cx="309.99" cy="268.36" r="0.85" fill="#333"/><circle cx="310.00" cy="271.40" r="1.1" fill="#333"/><circle cx="307.08" cy="272.25" r="0.85" fill="#333"/><circle cx="305.13" cy="274.58" r="1.1" fill="#333"/><circle cx="302.35" cy="273.35" r="0.85" fill="#333"/><circle cx="299.36" cy="273.88" r="1.1" fill="#333"/><circle cx="298.02" cy="271.15" r="0.85" fill="#333"/><circle cx="295.38" cy="269.64" r="1.1" fill="#333"/><circle cx="296.11" cy="266.69" r="0.85" fill="#333"/><circle cx="295.07" cy="263.83" r="1.1" fill="#333"/><circle cx="297.52" cy="262.04" r="0.85" fill="#333"/><circle cx="298.56" cy="259.18" r="1.1" fill="#333"/><circle cx="301.59" cy="259.39" r="0.85" fill="#333"/>
<circle cx="303.2" cy="266.3" r="5.5" fill="#fff" stroke="#333" stroke-width="1.2"/>
<circle cx="303.2" cy="266.3" r="4.1" fill="#000"/>
<path d="M268.27,282.24L268.62,279.36M270.13,282.80L270.81,281.47M271.69,283.97L273.80,281.99M272.75,285.60L274.13,285.01M273.19,287.49L276.09,287.34M272.96,289.43L274.39,289.86M272.08,291.16L274.40,292.90M270.66,292.49L271.48,293.75M268.87,293.25L269.53,296.08M266.93,293.36L266.75,294.85M265.07,292.80L263.76,295.38M263.51,291.63L262.42,292.65M262.45,290.00L259.78,291.14M262.01,288.11L260.51,288.19M262.24,286.17L259.47,285.33M263.12,284.44L261.92,283.54M264.54,283.11L262.96,280.68M266.33,282.35L265.99,280.89" stroke="#444" stroke-width="0.65"/>
<circle cx="268.62" cy="279.36" r="1.1" fill="#333"/><circle cx="270.81" cy="281.47" r="0.85" fill="#333"/><circle cx="273.80" cy="281.99" r="1.1" fill="#333"/><circle cx="274.13" cy="285.01" r="0.85" fill="#333"/><circle cx="276.09" cy="287.34" r="1.1" fill="#333"/><circle cx="274.39" cy="289.86" r="0.85" fill="#333"/><circle cx="274.40" cy="292.90" r="1.1" fill="#333"/><circle cx="271.48" cy="293.75" r="0.85" fill="#333"/><circle cx="269.53" cy="296.08" r="1.1" fill="#333"/><circle cx="266.75" cy="294.85" r="0.85" fill="#333"/><circle cx="263.76" cy="295.38" r="1.1" fill="#333"/><circle cx="262.42" cy="292.65" r="0.85" fill="#333"/><circle cx="259.78" cy="291.14" r="1.1" fill="#333"/><circle cx="260.51" cy="288.19" r="0.85" fill="#333"/><circle cx="259.47" cy="285.33" r="1.1" fill="#333"/><circle cx="261.92" cy="283.54" r="0.85" fill="#333"/><circle cx="262.96" cy="280.68" r="1.1" fill="#333"/><circle cx="265.99" cy="280.89" r="0.85" fill="#333"/>
<circle cx="267.6" cy="287.8" r="5.5" fill="#fff" stroke="#333" stroke-width="1.2"/>
<circle cx="267.6" cy="287.8" r="4.1" fill="#3f7fbf"/>
<path d="M292.37,289.44L292.72,286.56M294.23,290.00L294.91,288.67M295.79,291.17L297.90,289.19M296.85,292.80L298.23,292.21M297.29,294.69L300.19,294.54M297.06,296.63L298.49,297.06M296.18,298.36L298.50,300.10M294.76,299.69L295.58,300.95M292.97,300.45L293.63,303.28M291.03,300.56L290.85,302.05M289.17,300.00L287.86,302.58M287.61,298.83L286.52,299.85M286.55,297.20L283.88,298.34M286.11,295.31L284.61,295.39M286.34,293.37L283.57,292.53M287.22,291.64L286.02,290.74M288.64,290.31L287.06,287.88M290.43,289.55L290.09,288.09" stroke="#444" stroke-width="0.65"/>
<circle cx="292.72" cy="286.56" r="1.1" fill="#333"/><circle cx="294.91" cy="288.67" r="0.85" fill="#333"/><circle cx="297.90" cy="289.19" r="1.1" fill="#333"/><circle cx="298.23" cy="292.21" r="0.85" fill="#333"/><circle cx="300.19" cy="294.54" r="1.1" fill="#333"/><circle cx="298.49" cy="297.06" r="0.85" fill="#333"/><circle cx="298.50" cy="300.10" r="1.1" fill="#333"/><circle cx="295.58" cy="300.95" r="0.85" fill="#333"/><circle cx="293.63" cy="303.28" r="1.1" fill="#333"/><circle cx="290.85" cy="302.05" r="0.85" fill="#333"/><circle cx="287.86" cy="302.58" r="1.1" fill="#333"/><circle cx="286.52" cy="299.85" r="0.85" fill="#333"/><circle cx="283.88" cy="298.34" r="1.1" fill="#333"/><circle cx="284.61" cy="295.39" r="0.85" fill="#333"/><circle cx="283.57" cy="292.53" r="1.1" fill="#333"/><circle cx="286.02" cy="290.74" r="0.85" fill="#333"/><circle cx="287.06" cy="287.88" r="1.1" fill="#333"/><circle cx="290.09" cy="288.09" r="0.85" fill="#333"/>
<circle cx="291.7" cy="295" r="5.5" fill="#fff" stroke="#333" stroke-width="1.2"/>
<circle cx="291.7" cy="295" r="4.1" fill="#c8434a"/>
<path d="M316.97,283.94L317.32,281.06M318.83,284.50L319.51,283.17M320.39,285.67L322.50,283.69M321.45,287.30L322.83,286.71M321.89,289.19L324.79,289.04M321.66,291.13L323.09,291.56M320.78,292.86L323.10,294.60M319.36,294.19L320.18,295.45M317.57,294.95L318.23,297.78M315.63,295.06L315.45,296.55M313.77,294.50L312.46,297.08M312.21,293.33L311.12,294.35M311.15,291.70L308.48,292.84M310.71,289.81L309.21,289.89M310.94,287.87L308.17,287.03M311.82,286.14L310.62,285.24M313.24,284.81L311.66,282.38M315.03,284.05L314.69,282.59" stroke="#444" stroke-width="0.65"/>
<circle cx="317.32" cy="281.06" r="1.1" fill="#333"/><circle cx="319.51" cy="283.17" r="0.85" fill="#333"/><circle cx="322.50" cy="283.69" r="1.1" fill="#333"/><circle cx="322.83" cy="286.71" r="0.85" fill="#333"/><circle cx="324.79" cy="289.04" r="1.1" fill="#333"/><circle cx="323.09" cy="291.56" r="0.85" fill="#333"/><circle cx="323.10" cy="294.60" r="1.1" fill="#333"/><circle cx="320.18" cy="295.45" r="0.85" fill="#333"/><circle cx="318.23" cy="297.78" r="1.1" fill="#333"/><circle cx="315.45" cy="296.55" r="0.85" fill="#333"/><circle cx="312.46" cy="297.08" r="1.1" fill="#333"/><circle cx="311.12" cy="294.35" r="0.85" fill="#333"/><circle cx="308.48" cy="292.84" r="1.1" fill="#333"/><circle cx="309.21" cy="289.89" r="0.85" fill="#333"/><circle cx="308.17" cy="287.03" r="1.1" fill="#333"/><circle cx="310.62" cy="285.24" r="0.85" fill="#333"/><circle cx="311.66" cy="282.38" r="1.1" fill="#333"/><circle cx="314.69" cy="282.59" r="0.85" fill="#333"/>
<circle cx="316.3" cy="289.5" r="5.5" fill="#fff" stroke="#333" stroke-width="1.2"/>
<circle cx="316.3" cy="289.5" r="4.1" fill="#3aa865"/>
<path d="M180.60,329.70 A37.3,20.5 0 0 1 255.20,329.70 L255.20,337.20 A37.3,20.5 0 0 1 180.60,337.20 Z" fill="#ebebeb" stroke="#b0b0b0" stroke-width="0.8"/>
<ellipse cx="217.9" cy="329.70" rx="37.3" ry="20.5" fill="#f1f1f1" stroke="#bcbcbc" stroke-width="0.7"/>
<ellipse cx="217.9" cy="334.20" rx="34.8" ry="18.4" fill="#e6e6e6" stroke="#c0c0c0" stroke-width="0.7"/>
<clipPath id="dc1"><ellipse cx="217.9" cy="334.50" rx="36.6" ry="19.30"/></clipPath>
<g clip-path="url(#dc1)">
<polygon points="201.90,322.40 205.10,318.45 215.10,318.45 218.30,322.40 215.10,326.35 205.10,326.35" fill="#939393"/>
<ellipse cx="210.10" cy="322.40" rx="4.9" ry="2.85" fill="#bdbdbd"/>
<ellipse cx="210.10" cy="322.40" rx="4.0" ry="2.2" fill="#555555"/>
<polygon points="193.20,329.50 196.40,325.55 206.40,325.55 209.60,329.50 206.40,333.45 196.40,333.45" fill="#939393"/>
<ellipse cx="201.40" cy="329.50" rx="4.9" ry="2.85" fill="#bdbdbd"/>
<ellipse cx="201.40" cy="329.50" rx="4.0" ry="2.2" fill="#555555"/>
<polygon points="210.50,329.50 213.70,325.55 223.70,325.55 226.90,329.50 223.70,333.45 213.70,333.45" fill="#939393"/>
<ellipse cx="218.70" cy="329.50" rx="4.9" ry="2.85" fill="#bdbdbd"/>
<ellipse cx="218.70" cy="329.50" rx="4.0" ry="2.2" fill="#555555"/>
<polygon points="228.00,329.50 231.20,325.55 241.20,325.55 244.40,329.50 241.20,333.45 231.20,333.45" fill="#939393"/>
<ellipse cx="236.20" cy="329.50" rx="4.9" ry="2.85" fill="#bdbdbd"/>
<ellipse cx="236.20" cy="329.50" rx="4.0" ry="2.2" fill="#555555"/>
<polygon points="185.00,337.10 188.20,333.15 198.20,333.15 201.40,337.10 198.20,341.05 188.20,341.05" fill="#939393"/>
<ellipse cx="193.20" cy="337.10" rx="4.9" ry="2.85" fill="#bdbdbd"/>
<ellipse cx="193.20" cy="337.10" rx="4.0" ry="2.2" fill="#555555"/>
<polygon points="202.00,337.10 205.20,333.15 215.20,333.15 218.40,337.10 215.20,341.05 205.20,341.05" fill="#939393"/>
<ellipse cx="210.20" cy="337.10" rx="4.9" ry="2.85" fill="#bdbdbd"/>
<ellipse cx="210.20" cy="337.10" rx="4.0" ry="2.2" fill="#555555"/>
<polygon points="219.00,337.10 222.20,333.15 232.20,333.15 235.40,337.10 232.20,341.05 222.20,341.05" fill="#939393"/>
<ellipse cx="227.20" cy="337.10" rx="4.9" ry="2.85" fill="#bdbdbd"/>
<ellipse cx="227.20" cy="337.10" rx="4.0" ry="2.2" fill="#555555"/>
<polygon points="193.70,344.50 196.90,340.55 206.90,340.55 210.10,344.50 206.90,348.45 196.90,348.45" fill="#939393"/>
<ellipse cx="201.90" cy="344.50" rx="4.9" ry="2.85" fill="#bdbdbd"/>
<ellipse cx="201.90" cy="344.50" rx="4.0" ry="2.2" fill="#555555"/>
<polygon points="210.90,344.50 214.10,340.55 224.10,340.55 227.30,344.50 224.10,348.45 214.10,348.45" fill="#939393"/>
<ellipse cx="219.10" cy="344.50" rx="4.9" ry="2.85" fill="#bdbdbd"/>
<ellipse cx="219.10" cy="344.50" rx="4.0" ry="2.2" fill="#555555"/>
<polygon points="228.00,344.50 231.20,340.55 241.20,340.55 244.40,344.50 241.20,348.45 231.20,348.45" fill="#939393"/>
<ellipse cx="236.20" cy="344.50" rx="4.9" ry="2.85" fill="#bdbdbd"/>
<ellipse cx="236.20" cy="344.50" rx="4.0" ry="2.2" fill="#555555"/>
<polygon points="202.20,350.50 205.40,346.55 215.40,346.55 218.60,350.50 215.40,354.45 205.40,354.45" fill="#939393"/>
<ellipse cx="210.40" cy="350.50" rx="4.9" ry="2.85" fill="#bdbdbd"/>
<ellipse cx="210.40" cy="350.50" rx="4.0" ry="2.2" fill="#555555"/>
<polygon points="219.20,350.50 222.40,346.55 232.40,346.55 235.60,350.50 232.40,354.45 222.40,354.45" fill="#939393"/>
<ellipse cx="227.40" cy="350.50" rx="4.9" ry="2.85" fill="#bdbdbd"/>
<ellipse cx="227.40" cy="350.50" rx="4.0" ry="2.2" fill="#555555"/>
</g>
<path d="M180.60,329.70 A37.3,20.5 0 0 0 255.20,329.70 L255.20,337.20 A37.3,20.5 0 0 1 180.60,337.20 Z" fill="#f6f6f6" fill-opacity="0.35" stroke="#b4b4b4" stroke-width="0.7"/>
<path d="M181.80,332.20 A36.099999999999994,19.7 0 0 0 254.00,332.20" fill="none" stroke="#d2d2d2" stroke-width="0.6"/>
<path d="M308.60,329.70 A37.3,20.5 0 0 1 383.20,329.70 L383.20,337.20 A37.3,20.5 0 0 1 308.60,337.20 Z" fill="#ebebeb" stroke="#b0b0b0" stroke-width="0.8"/>
<ellipse cx="345.9" cy="329.70" rx="37.3" ry="20.5" fill="#f1f1f1" stroke="#bcbcbc" stroke-width="0.7"/>
<ellipse cx="345.9" cy="334.20" rx="34.8" ry="18.4" fill="#e6e6e6" stroke="#c0c0c0" stroke-width="0.7"/>
<clipPath id="dc2"><ellipse cx="345.9" cy="334.50" rx="36.6" ry="19.30"/></clipPath>
<g clip-path="url(#dc2)">
<polygon points="329.90,322.40 333.10,318.45 343.10,318.45 346.30,322.40 343.10,326.35 333.10,326.35" fill="#44ad62"/>
<ellipse cx="338.10" cy="322.40" rx="4.9" ry="2.85" fill="#9ed3ab"/>
<ellipse cx="338.10" cy="322.40" rx="4.0" ry="2.2" fill="#2c6b3f"/>
<polygon points="321.20,329.50 324.40,325.55 334.40,325.55 337.60,329.50 334.40,333.45 324.40,333.45" fill="#cf4650"/>
<ellipse cx="329.40" cy="329.50" rx="4.9" ry="2.85" fill="#eaa0a6"/>
<ellipse cx="329.40" cy="329.50" rx="4.0" ry="2.2" fill="#7b2a31"/>
<polygon points="338.50,329.50 341.70,325.55 351.70,325.55 354.90,329.50 351.70,333.45 341.70,333.45" fill="#e0bf36"/>
<ellipse cx="346.70" cy="329.50" rx="4.9" ry="2.85" fill="#f0df95"/>
<ellipse cx="346.70" cy="329.50" rx="4.0" ry="2.2" fill="#8e7c22"/>
<polygon points="356.00,329.50 359.20,325.55 369.20,325.55 372.40,329.50 369.20,333.45 359.20,333.45" fill="#44ad62"/>
<ellipse cx="364.20" cy="329.50" rx="4.9" ry="2.85" fill="#9ed3ab"/>
<ellipse cx="364.20" cy="329.50" rx="4.0" ry="2.2" fill="#2c6b3f"/>
<polygon points="313.00,337.10 316.20,333.15 326.20,333.15 329.40,337.10 326.20,341.05 316.20,341.05" fill="#3f80c0"/>
<ellipse cx="321.20" cy="337.10" rx="4.9" ry="2.85" fill="#9cc0e2"/>
<ellipse cx="321.20" cy="337.10" rx="4.0" ry="2.2" fill="#2b5276"/>
<polygon points="330.00,337.10 333.20,333.15 343.20,333.15 346.40,337.10 343.20,341.05 333.20,341.05" fill="#44ad62"/>
<ellipse cx="338.20" cy="337.10" rx="4.9" ry="2.85" fill="#9ed3ab"/>
<ellipse cx="338.20" cy="337.10" rx="4.0" ry="2.2" fill="#2c6b3f"/>
<polygon points="347.00,337.10 350.20,333.15 360.20,333.15 363.40,337.10 360.20,341.05 350.20,341.05" fill="#3f80c0"/>
<ellipse cx="355.20" cy="337.10" rx="4.9" ry="2.85" fill="#9cc0e2"/>
<ellipse cx="355.20" cy="337.10" rx="4.0" ry="2.2" fill="#2b5276"/>
<polygon points="321.70,344.50 324.90,340.55 334.90,340.55 338.10,344.50 334.90,348.45 324.90,348.45" fill="#e0bf36"/>
<ellipse cx="329.90" cy="344.50" rx="4.9" ry="2.85" fill="#f0df95"/>
<ellipse cx="329.90" cy="344.50" rx="4.0" ry="2.2" fill="#8e7c22"/>
<polygon points="338.90,344.50 342.10,340.55 352.10,340.55 355.30,344.50 352.10,348.45 342.10,348.45" fill="#3c3c3c"/>
<ellipse cx="347.10" cy="344.50" rx="4.9" ry="2.85" fill="#a0a0a0"/>
<ellipse cx="347.10" cy="344.50" rx="4.0" ry="2.2" fill="#050505"/>
<polygon points="356.00,344.50 359.20,340.55 369.20,340.55 372.40,344.50 369.20,348.45 359.20,348.45" fill="#cf4650"/>
<ellipse cx="364.20" cy="344.50" rx="4.9" ry="2.85" fill="#eaa0a6"/>
<ellipse cx="364.20" cy="344.50" rx="4.0" ry="2.2" fill="#7b2a31"/>
<polygon points="330.20,350.50 333.40,346.55 343.40,346.55 346.60,350.50 343.40,354.45 333.40,354.45" fill="#3c3c3c"/>
<ellipse cx="338.40" cy="350.50" rx="4.9" ry="2.85" fill="#a0a0a0"/>
<ellipse cx="338.40" cy="350.50" rx="4.0" ry="2.2" fill="#050505"/>
<polygon points="347.20,350.50 350.40,346.55 360.40,346.55 363.60,350.50 360.40,354.45 350.40,354.45" fill="#e0bf36"/>
<ellipse cx="355.40" cy="350.50" rx="4.9" ry="2.85" fill="#f0df95"/>
<ellipse cx="355.40" cy="350.50" rx="4.0" ry="2.2" fill="#8e7c22"/>
</g>
<path d="M308.60,329.70 A37.3,20.5 0 0 0 383.20,329.70 L383.20,337.20 A37.3,20.5 0 0 1 308.60,337.20 Z" fill="#f6f6f6" fill-opacity="0.35" stroke="#b4b4b4" stroke-width="0.7"/>
<path d="M309.80,332.20 A36.099999999999994,19.7 0 0 0 382.00,332.20" fill="none" stroke="#d2d2d2" stroke-width="0.6"/>
<path d="M457.10,288.90 A37.3,20.5 0 0 1 531.70,288.90 L531.70,296.40 A37.3,20.5 0 0 1 457.10,296.40 Z" fill="#ebebeb" stroke="#b0b0b0" stroke-width="0.8"/>
<ellipse cx="494.4" cy="288.90" rx="37.3" ry="20.5" fill="#f1f1f1" stroke="#bcbcbc" stroke-width="0.7"/>
<ellipse cx="494.4" cy="293.40" rx="34.8" ry="18.4" fill="#e6e6e6" stroke="#c0c0c0" stroke-width="0.7"/>
<clipPath id="dc3"><ellipse cx="494.4" cy="293.70" rx="36.6" ry="19.30"/></clipPath>
<g clip-path="url(#dc3)">
<polygon points="469.70,288.70 472.90,284.75 482.90,284.75 486.10,288.70 482.90,292.65 472.90,292.65" fill="#3c3c3c"/>
<ellipse cx="477.90" cy="288.70" rx="4.9" ry="2.85" fill="#a0a0a0"/>
<ellipse cx="477.90" cy="288.70" rx="4.0" ry="2.2" fill="#050505"/>
<polygon points="487.00,288.70 490.20,284.75 500.20,284.75 503.40,288.70 500.20,292.65 490.20,292.65" fill="#e0bf36"/>
<ellipse cx="495.20" cy="288.70" rx="4.9" ry="2.85" fill="#f0df95"/>
<ellipse cx="495.20" cy="288.70" rx="4.0" ry="2.2" fill="#8e7c22"/>
<polygon points="504.50,288.70 507.70,284.75 517.70,284.75 520.90,288.70 517.70,292.65 507.70,292.65" fill="#e0bf36"/>
<ellipse cx="512.70" cy="288.70" rx="4.9" ry="2.85" fill="#f0df95"/>
<ellipse cx="512.70" cy="288.70" rx="4.0" ry="2.2" fill="#8e7c22"/>
<polygon points="461.50,296.30 464.70,292.35 474.70,292.35 477.90,296.30 474.70,300.25 464.70,300.25" fill="#e0bf36"/>
<ellipse cx="469.70" cy="296.30" rx="4.9" ry="2.85" fill="#f0df95"/>
<ellipse cx="469.70" cy="296.30" rx="4.0" ry="2.2" fill="#8e7c22"/>
<polygon points="478.50,296.30 481.70,292.35 491.70,292.35 494.90,296.30 491.70,300.25 481.70,300.25" fill="#3c3c3c"/>
<ellipse cx="486.70" cy="296.30" rx="4.9" ry="2.85" fill="#a0a0a0"/>
<ellipse cx="486.70" cy="296.30" rx="4.0" ry="2.2" fill="#050505"/>
<polygon points="470.20,303.70 473.40,299.75 483.40,299.75 486.60,303.70 483.40,307.65 473.40,307.65" fill="#e0bf36"/>
<ellipse cx="478.40" cy="303.70" rx="4.9" ry="2.85" fill="#f0df95"/>
<ellipse cx="478.40" cy="303.70" rx="4.0" ry="2.2" fill="#8e7c22"/>
<polygon points="487.40,303.70 490.60,299.75 500.60,299.75 503.80,303.70 500.60,307.65 490.60,307.65" fill="#3c3c3c"/>
<ellipse cx="495.60" cy="303.70" rx="4.9" ry="2.85" fill="#a0a0a0"/>
<ellipse cx="495.60" cy="303.70" rx="4.0" ry="2.2" fill="#050505"/>
<polygon points="478.70,309.70 481.90,305.75 491.90,305.75 495.10,309.70 491.90,313.65 481.90,313.65" fill="#3c3c3c"/>
<ellipse cx="486.90" cy="309.70" rx="4.9" ry="2.85" fill="#a0a0a0"/>
<ellipse cx="486.90" cy="309.70" rx="4.0" ry="2.2" fill="#050505"/>
<polygon points="495.70,309.70 498.90,305.75 508.90,305.75 512.10,309.70 508.90,313.65 498.90,313.65" fill="#e0bf36"/>
<ellipse cx="503.90" cy="309.70" rx="4.9" ry="2.85" fill="#f0df95"/>
<ellipse cx="503.90" cy="309.70" rx="4.0" ry="2.2" fill="#8e7c22"/>
</g>
<path d="M457.10,288.90 A37.3,20.5 0 0 0 531.70,288.90 L531.70,296.40 A37.3,20.5 0 0 1 457.10,296.40 Z" fill="#f6f6f6" fill-opacity="0.35" stroke="#b4b4b4" stroke-width="0.7"/>
<path d="M458.30,291.40 A36.099999999999994,19.7 0 0 0 530.50,291.40" fill="none" stroke="#d2d2d2" stroke-width="0.6"/>
<path d="M457.10,368.90 A37.3,20.5 0 0 1 531.70,368.90 L531.70,376.40 A37.3,20.5 0 0 1 457.10,376.40 Z" fill="#ebebeb" stroke="#b0b0b0" stroke-width="0.8"/>
<ellipse cx="494.4" cy="368.90" rx="37.3" ry="20.5" fill="#f1f1f1" stroke="#bcbcbc" stroke-width="0.7"/>
<ellipse cx="494.4" cy="373.40" rx="34.8" ry="18.4" fill="#e6e6e6" stroke="#c0c0c0" stroke-width="0.7"/>
<clipPath id="dc4"><ellipse cx="494.4" cy="373.70" rx="36.6" ry="19.30"/></clipPath>
<g clip-path="url(#dc4)">
<polygon points="478.40,361.60 481.60,357.65 491.60,357.65 494.80,361.60 491.60,365.55 481.60,365.55" fill="#44ad62"/>
<ellipse cx="486.60" cy="361.60" rx="4.9" ry="2.85" fill="#9ed3ab"/>
<ellipse cx="486.60" cy="361.60" rx="4.0" ry="2.2" fill="#2c6b3f"/>
<polygon points="469.70,368.70 472.90,364.75 482.90,364.75 486.10,368.70 482.90,372.65 472.90,372.65" fill="#cf4650"/>
<ellipse cx="477.90" cy="368.70" rx="4.9" ry="2.85" fill="#eaa0a6"/>
<ellipse cx="477.90" cy="368.70" rx="4.0" ry="2.2" fill="#7b2a31"/>
<polygon points="487.00,368.70 490.20,364.75 500.20,364.75 503.40,368.70 500.20,372.65 490.20,372.65" fill="#cf4650"/>
<ellipse cx="495.20" cy="368.70" rx="4.9" ry="2.85" fill="#eaa0a6"/>
<ellipse cx="495.20" cy="368.70" rx="4.0" ry="2.2" fill="#7b2a31"/>
<polygon points="504.50,368.70 507.70,364.75 517.70,364.75 520.90,368.70 517.70,372.65 507.70,372.65" fill="#44ad62"/>
<ellipse cx="512.70" cy="368.70" rx="4.9" ry="2.85" fill="#9ed3ab"/>
<ellipse cx="512.70" cy="368.70" rx="4.0" ry="2.2" fill="#2c6b3f"/>
<polygon points="478.50,376.30 481.70,372.35 491.70,372.35 494.90,376.30 491.70,380.25 481.70,380.25" fill="#44ad62"/>
<ellipse cx="486.70" cy="376.30" rx="4.9" ry="2.85" fill="#9ed3ab"/>
<ellipse cx="486.70" cy="376.30" rx="4.0" ry="2.2" fill="#2c6b3f"/>
<polygon points="495.50,376.30 498.70,372.35 508.70,372.35 511.90,376.30 508.70,380.25 498.70,380.25" fill="#44ad62"/>
<ellipse cx="503.70" cy="376.30" rx="4.9" ry="2.85" fill="#9ed3ab"/>
<ellipse cx="503.70" cy="376.30" rx="4.0" ry="2.2" fill="#2c6b3f"/>
<polygon points="470.20,383.70 473.40,379.75 483.40,379.75 486.60,383.70 483.40,387.65 473.40,387.65" fill="#cf4650"/>
<ellipse cx="478.40" cy="383.70" rx="4.9" ry="2.85" fill="#eaa0a6"/>
<ellipse cx="478.40" cy="383.70" rx="4.0" ry="2.2" fill="#7b2a31"/>
<polygon points="504.50,383.70 507.70,379.75 517.70,379.75 520.90,383.70 517.70,387.65 507.70,387.65" fill="#cf4650"/>
<ellipse cx="512.70" cy="383.70" rx="4.9" ry="2.85" fill="#eaa0a6"/>
<ellipse cx="512.70" cy="383.70" rx="4.0" ry="2.2" fill="#7b2a31"/>
<polygon points="478.70,389.70 481.90,385.75 491.90,385.75 495.10,389.70 491.90,393.65 481.90,393.65" fill="#44ad62"/>
<ellipse cx="486.90" cy="389.70" rx="4.9" ry="2.85" fill="#9ed3ab"/>
<ellipse cx="486.90" cy="389.70" rx="4.0" ry="2.2" fill="#2c6b3f"/>
</g>
<path d="M457.10,368.90 A37.3,20.5 0 0 0 531.70,368.90 L531.70,376.40 A37.3,20.5 0 0 1 457.10,376.40 Z" fill="#f6f6f6" fill-opacity="0.35" stroke="#b4b4b4" stroke-width="0.7"/>
<path d="M458.30,371.40 A36.099999999999994,19.7 0 0 0 530.50,371.40" fill="none" stroke="#d2d2d2" stroke-width="0.6"/>
<text x="216.50" y="375.89" font-size="10.3" text-anchor="middle" fill="#000" >A375</text>
<text x="344.20" y="374.29" font-size="10.3" text-anchor="middle" fill="#000" >Selection of gRNA-</text>
<text x="344.20" y="385.99" font-size="10.3" text-anchor="middle" fill="#000" >expressing cells</text>
<text x="491.90" y="260.49" font-size="10.3" text-anchor="middle" fill="#000" >Vehicle</text>
<text x="492.00" y="341.89" font-size="10.3" text-anchor="middle" fill="#000" >SR-4835</text>
<line x1="40.20" y1="442.60" x2="40.20" y2="576.00" stroke="#aaa" stroke-width="1.2" />
<line x1="37.40" y1="575.80" x2="40.20" y2="575.80" stroke="#333" stroke-width="0.9" />
<text x="36.20" y="578.74" font-size="8.2" text-anchor="end" fill="#000" >-8</text>
<line x1="37.40" y1="559.20" x2="40.20" y2="559.20" stroke="#333" stroke-width="0.9" />
<text x="36.20" y="562.14" font-size="8.2" text-anchor="end" fill="#000" >-6</text>
<line x1="37.40" y1="542.60" x2="40.20" y2="542.60" stroke="#333" stroke-width="0.9" />
<text x="36.20" y="545.54" font-size="8.2" text-anchor="end" fill="#000" >-4</text>
<line x1="37.40" y1="526.00" x2="40.20" y2="526.00" stroke="#333" stroke-width="0.9" />
<text x="36.20" y="528.94" font-size="8.2" text-anchor="end" fill="#000" >-2</text>
<line x1="37.40" y1="509.40" x2="40.20" y2="509.40" stroke="#333" stroke-width="0.9" />
<text x="36.20" y="512.34" font-size="8.2" text-anchor="end" fill="#000" >0</text>
<line x1="37.40" y1="492.80" x2="40.20" y2="492.80" stroke="#333" stroke-width="0.9" />
<text x="36.20" y="495.74" font-size="8.2" text-anchor="end" fill="#000" >2</text>
<line x1="37.40" y1="476.20" x2="40.20" y2="476.20" stroke="#333" stroke-width="0.9" />
<text x="36.20" y="479.14" font-size="8.2" text-anchor="end" fill="#000" >4</text>
<line x1="37.40" y1="459.60" x2="40.20" y2="459.60" stroke="#333" stroke-width="0.9" />
<text x="36.20" y="462.54" font-size="8.2" text-anchor="end" fill="#000" >6</text>
<line x1="37.40" y1="443.00" x2="40.20" y2="443.00" stroke="#333" stroke-width="0.9" />
<text x="36.20" y="445.94" font-size="8.2" text-anchor="end" fill="#000" >8</text>
<line x1="39.60" y1="575.60" x2="239.20" y2="575.60" stroke="#333" stroke-width="1.1" />
<line x1="39.50" y1="575.60" x2="39.50" y2="578.20" stroke="#333" stroke-width="0.8" />
<line x1="49.48" y1="575.60" x2="49.48" y2="577.20" stroke="#333" stroke-width="0.8" />
<line x1="59.46" y1="575.60" x2="59.46" y2="577.20" stroke="#333" stroke-width="0.8" />
<line x1="69.44" y1="575.60" x2="69.44" y2="577.20" stroke="#333" stroke-width="0.8" />
<line x1="79.42" y1="575.60" x2="79.42" y2="577.20" stroke="#333" stroke-width="0.8" />
<line x1="89.40" y1="575.60" x2="89.40" y2="578.20" stroke="#333" stroke-width="0.8" />
<line x1="99.38" y1="575.60" x2="99.38" y2="577.20" stroke="#333" stroke-width="0.8" />
<line x1="109.36" y1="575.60" x2="109.36" y2="577.20" stroke="#333" stroke-width="0.8" />
<line x1="119.34" y1="575.60" x2="119.34" y2="577.20" stroke="#333" stroke-width="0.8" />
<line x1="129.32" y1="575.60" x2="129.32" y2="577.20" stroke="#333" stroke-width="0.8" />
<line x1="139.30" y1="575.60" x2="139.30" y2="578.20" stroke="#333" stroke-width="0.8" />
<line x1="149.28" y1="575.60" x2="149.28" y2="577.20" stroke="#333" stroke-width="0.8" />
<line x1="159.26" y1="575.60" x2="159.26" y2="577.20" stroke="#333" stroke-width="0.8" />
<line x1="169.24" y1="575.60" x2="169.24" y2="577.20" stroke="#333" stroke-width="0.8" />
<line x1="179.22" y1="575.60" x2="179.22" y2="577.20" stroke="#333" stroke-width="0.8" />
<line x1="189.20" y1="575.60" x2="189.20" y2="578.20" stroke="#333" stroke-width="0.8" />
<line x1="199.18" y1="575.60" x2="199.18" y2="577.20" stroke="#333" stroke-width="0.8" />
<line x1="209.16" y1="575.60" x2="209.16" y2="577.20" stroke="#333" stroke-width="0.8" />
<line x1="219.14" y1="575.60" x2="219.14" y2="577.20" stroke="#333" stroke-width="0.8" />
<line x1="229.12" y1="575.60" x2="229.12" y2="577.20" stroke="#333" stroke-width="0.8" />
<line x1="239.10" y1="575.60" x2="239.10" y2="578.20" stroke="#333" stroke-width="0.8" />
<text x="89.40" y="587.44" font-size="8.2" text-anchor="middle" fill="#000" >5000</text>
<text x="139.30" y="587.44" font-size="8.2" text-anchor="middle" fill="#000" >10000</text>
<text x="189.20" y="587.44" font-size="8.2" text-anchor="middle" fill="#000" >15000</text>
<text x="239.10" y="587.44" font-size="8.2" text-anchor="middle" fill="#000" >20000</text>
<text x="142.70" y="602.69" font-size="10.3" text-anchor="middle" fill="#000" >Gene rank</text>
<text transform="translate(21.6,507.5) rotate(-90)" font-size="10.3" text-anchor="middle">Drug normZscore</text>
<line x1="40.50" y1="509.30" x2="240.00" y2="509.30" stroke="#888" stroke-width="0.8" stroke-dasharray="3 2"/>
<text x="242.50" y="507.69" font-size="10.3" text-anchor="end" fill="#888" >Rescue</text>
<text x="242.50" y="519.99" font-size="10.3" text-anchor="end" fill="#888" >Synthetic lethal</text>
<path d="M40.6,539 C40.8,531 42,525.5 46.8,521.8 C50,519.3 54,517.8 60,516.3 C75,513 90,511.7 110,510 C140,507.6 165,505 185,501.8 C200,499 210,496 214,492 C218.5,487.5 219.5,483 219.5,478" fill="none" stroke="#8a8a8a" stroke-width="3"/>
<rect x="217.8" y="463.1" width="3.5" height="17.1" rx="1.7" fill="#ff2a0a"/>
<circle cx="219.6" cy="452.8" r="1.6" fill="#ff2a0a"/>
<rect x="38.4" y="538.2" width="3.6" height="14.1" rx="1.8" fill="#1f3cff"/>
<circle cx="40.1" cy="556.7" r="1.8" fill="#1f3cff"/>
<line x1="208.80" y1="451.20" x2="217.00" y2="465.70" stroke="#111" stroke-width="0.9" />
<line x1="208.80" y1="461.60" x2="216.60" y2="468.60" stroke="#111" stroke-width="0.9" />
<line x1="208.80" y1="470.10" x2="216.20" y2="474.60" stroke="#111" stroke-width="0.9" />
<line x1="230.00" y1="449.30" x2="222.50" y2="462.70" stroke="#111" stroke-width="0.9" />
<line x1="229.60" y1="458.20" x2="222.50" y2="466.40" stroke="#111" stroke-width="0.9" />
<line x1="229.60" y1="466.40" x2="222.50" y2="470.10" stroke="#111" stroke-width="0.9" />
<line x1="230.00" y1="475.70" x2="222.70" y2="479.10" stroke="#111" stroke-width="0.9" />
<line x1="44.20" y1="544.80" x2="51.90" y2="537.60" stroke="#111" stroke-width="0.9" />
<line x1="44.20" y1="547.30" x2="52.50" y2="548.60" stroke="#111" stroke-width="0.9" />
<line x1="44.20" y1="551.90" x2="51.70" y2="556.80" stroke="#111" stroke-width="0.9" />
<line x1="44.20" y1="558.10" x2="51.70" y2="565.50" stroke="#111" stroke-width="0.9" />
<text x="205.40" y="452.58" font-size="10" text-anchor="end" fill="#000" font-style="italic" >DDB1</text>
<text x="205.40" y="464.08" font-size="10" text-anchor="end" fill="#000" font-style="italic" >UBE2G1</text>
<text x="205.40" y="474.48" font-size="10" text-anchor="end" fill="#000" font-style="italic" >UBE2M</text>
<text x="232.60" y="447.68" font-size="10" text-anchor="start" fill="#000" font-style="italic" >DDA1</text>
<text x="232.60" y="459.58" font-size="10" text-anchor="start" fill="#000" font-style="italic" >CAND1</text>
<text x="232.60" y="470.78" font-size="10" text-anchor="start" fill="#000" font-style="italic" >RBX1</text>
<text x="232.60" y="480.38" font-size="10" text-anchor="start" fill="#000" font-style="italic" >CUL4B</text>
<text x="54.60" y="540.98" font-size="10" text-anchor="start" fill="#000" font-style="italic" >MED23</text>
<text x="54.60" y="551.28" font-size="10" text-anchor="start" fill="#000" font-style="italic" >PHF3</text>
<text x="54.60" y="561.18" font-size="10" text-anchor="start" fill="#000" font-style="italic" >HEXIM1</text>
<text x="54.60" y="571.18" font-size="10" text-anchor="start" fill="#000" font-style="italic" >MED16</text>
<text x="329.40" y="433.58" font-size="10" text-anchor="start" fill="#777" >Synthetic lethal</text>
<text x="522.50" y="433.58" font-size="10" text-anchor="end" fill="#777" >Rescue</text>
<rect x="329.6" y="437.30" width="193.3" height="18.9" fill="#fff" stroke="#222" stroke-width="1.3"/>
<line x1="428.30" y1="438.30" x2="428.30" y2="455.30" stroke="#888" stroke-width="0.7" stroke-dasharray="2 1.5"/>
<line x1="466.40" y1="438.00" x2="466.40" y2="455.50" stroke="#ee2a2a" stroke-width="1" />
<line x1="469.30" y1="438.00" x2="469.30" y2="455.50" stroke="#ee2a2a" stroke-width="1" />
<line x1="479.30" y1="438.00" x2="479.30" y2="455.50" stroke="#ee2a2a" stroke-width="1" />
<text x="325.60" y="450.38" font-size="10" text-anchor="end" fill="#000" font-style="italic" >DDB1</text>
<rect x="329.6" y="460.92" width="193.3" height="18.9" fill="#fff" stroke="#222" stroke-width="1.3"/>
<line x1="428.30" y1="461.92" x2="428.30" y2="478.92" stroke="#888" stroke-width="0.7" stroke-dasharray="2 1.5"/>
<line x1="441.40" y1="461.62" x2="441.40" y2="479.12" stroke="#ee2a2a" stroke-width="1" />
<line x1="442.90" y1="461.62" x2="442.90" y2="479.12" stroke="#ee2a2a" stroke-width="1" />
<line x1="455.50" y1="461.62" x2="455.50" y2="479.12" stroke="#ee2a2a" stroke-width="1" />
<line x1="457.80" y1="461.62" x2="457.80" y2="479.12" stroke="#ee2a2a" stroke-width="1" />
<text x="325.60" y="474.00" font-size="10" text-anchor="end" fill="#000" font-style="italic" >CUL4B</text>
<rect x="329.6" y="484.54" width="193.3" height="18.9" fill="#fff" stroke="#222" stroke-width="1.3"/>
<line x1="428.30" y1="485.54" x2="428.30" y2="502.54" stroke="#888" stroke-width="0.7" stroke-dasharray="2 1.5"/>
<line x1="421.60" y1="485.24" x2="421.60" y2="502.74" stroke="#ee2a2a" stroke-width="1" />
<line x1="456.60" y1="485.24" x2="456.60" y2="502.74" stroke="#ee2a2a" stroke-width="1" />
<line x1="461.80" y1="485.24" x2="461.80" y2="502.74" stroke="#ee2a2a" stroke-width="1" />
<line x1="463.00" y1="485.24" x2="463.00" y2="502.74" stroke="#ee2a2a" stroke-width="1" />
<text x="325.60" y="497.62" font-size="10" text-anchor="end" fill="#000" font-style="italic" >RBX1</text>
<rect x="329.6" y="508.16" width="193.3" height="18.9" fill="#fff" stroke="#222" stroke-width="1.3"/>
<line x1="428.30" y1="509.16" x2="428.30" y2="526.16" stroke="#888" stroke-width="0.7" stroke-dasharray="2 1.5"/>
<line x1="440.20" y1="508.86" x2="440.20" y2="526.36" stroke="#ee2a2a" stroke-width="1" />
<line x1="446.70" y1="508.86" x2="446.70" y2="526.36" stroke="#ee2a2a" stroke-width="1" />
<line x1="471.50" y1="508.86" x2="471.50" y2="526.36" stroke="#ee2a2a" stroke-width="1" />
<line x1="483.00" y1="508.86" x2="483.00" y2="526.36" stroke="#ee2a2a" stroke-width="1" />
<text x="325.60" y="521.24" font-size="10" text-anchor="end" fill="#000" font-style="italic" >DDA1</text>
<rect x="329.6" y="531.78" width="193.3" height="18.9" fill="#fff" stroke="#222" stroke-width="1.3"/>
<line x1="428.30" y1="532.78" x2="428.30" y2="549.78" stroke="#888" stroke-width="0.7" stroke-dasharray="2 1.5"/>
<line x1="432.20" y1="532.48" x2="432.20" y2="549.98" stroke="#ee2a2a" stroke-width="1" />
<line x1="464.30" y1="532.48" x2="464.30" y2="549.98" stroke="#ee2a2a" stroke-width="1" />
<line x1="464.90" y1="532.48" x2="464.90" y2="549.98" stroke="#ee2a2a" stroke-width="1" />
<text x="325.60" y="544.86" font-size="10" text-anchor="end" fill="#000" font-style="italic" >UBE2M</text>
<rect x="329.6" y="555.40" width="193.3" height="18.9" fill="#fff" stroke="#222" stroke-width="1.3"/>
<line x1="428.30" y1="556.40" x2="428.30" y2="573.40" stroke="#888" stroke-width="0.7" stroke-dasharray="2 1.5"/>
<line x1="438.60" y1="556.10" x2="438.60" y2="573.60" stroke="#ee2a2a" stroke-width="1" />
<line x1="449.50" y1="556.10" x2="449.50" y2="573.60" stroke="#ee2a2a" stroke-width="1" />
<line x1="462.60" y1="556.10" x2="462.60" y2="573.60" stroke="#ee2a2a" stroke-width="1" />
<line x1="463.30" y1="556.10" x2="463.30" y2="573.60" stroke="#ee2a2a" stroke-width="1" />
<text x="325.60" y="568.48" font-size="10" text-anchor="end" fill="#000" font-style="italic" >UBE2G1</text>
<line x1="339.02" y1="575.40" x2="339.02" y2="577.40" stroke="#333" stroke-width="0.9" />
<text x="339.02" y="586.14" font-size="8.2" text-anchor="middle" fill="#000" >-7</text>
<line x1="364.50" y1="575.40" x2="364.50" y2="577.40" stroke="#333" stroke-width="0.9" />
<text x="364.50" y="586.14" font-size="8.2" text-anchor="middle" fill="#000" >-5</text>
<line x1="389.98" y1="575.40" x2="389.98" y2="577.40" stroke="#333" stroke-width="0.9" />
<text x="389.98" y="586.14" font-size="8.2" text-anchor="middle" fill="#000" >-3</text>
<line x1="415.46" y1="575.40" x2="415.46" y2="577.40" stroke="#333" stroke-width="0.9" />
<text x="415.46" y="586.14" font-size="8.2" text-anchor="middle" fill="#000" >-1</text>
<line x1="440.94" y1="575.40" x2="440.94" y2="577.40" stroke="#333" stroke-width="0.9" />
<text x="440.94" y="586.14" font-size="8.2" text-anchor="middle" fill="#000" >1</text>
<line x1="466.42" y1="575.40" x2="466.42" y2="577.40" stroke="#333" stroke-width="0.9" />
<text x="466.42" y="586.14" font-size="8.2" text-anchor="middle" fill="#000" >3</text>
<line x1="491.90" y1="575.40" x2="491.90" y2="577.40" stroke="#333" stroke-width="0.9" />
<text x="491.90" y="586.14" font-size="8.2" text-anchor="middle" fill="#000" >5</text>
<line x1="517.38" y1="575.40" x2="517.38" y2="577.40" stroke="#333" stroke-width="0.9" />
<text x="517.38" y="586.14" font-size="8.2" text-anchor="middle" fill="#000" >7</text>
<text x="428.10" y="597.92" font-size="10.1" text-anchor="middle" fill="#000" >Log2 FC (D14/D0)</text>
<path d="M569,452 C568,444 575,440 582,440.3 C592,440.8 603,447 607.5,455 C611,462 604,468 598,471.5 C592,474.5 584,474 578,470 C573,466.5 569.5,459 569,452 Z" fill="#cdcdcd"/>
<path d="M553.3,476 C553.3,465 562,456.8 573,456.8 C584.5,456.8 592.2,465.5 592.2,476 C592.2,485 587,491 580,495.5 L574,512 L561,514 C558.5,505 553.3,490 553.3,476 Z" fill="#7f7f7f"/>
<text x="588.00" y="458.30" font-size="8.1" text-anchor="middle" fill="#000" >Substrate</text>
<text x="572.30" y="476.10" font-size="8.1" text-anchor="middle" fill="#fff" >Substrate</text>
<text x="572.30" y="483.80" font-size="8.1" text-anchor="middle" fill="#fff" >Receptor</text>
<circle cx="613" cy="458" r="5.9" fill="#8a8a8a" stroke="#fff" stroke-width="0.6"/>
<text x="613.00" y="460.56" font-size="6.6" text-anchor="middle" fill="#fff" >Ub</text>
<circle cx="624.8" cy="452" r="5.9" fill="#8a8a8a" stroke="#fff" stroke-width="0.6"/>
<text x="624.80" y="454.56" font-size="6.6" text-anchor="middle" fill="#fff" >Ub</text>
<circle cx="637.2" cy="447.8" r="5.9" fill="#8a8a8a" stroke="#fff" stroke-width="0.6"/>
<text x="637.20" y="450.36" font-size="6.6" text-anchor="middle" fill="#fff" >Ub</text>
<circle cx="650.3" cy="444.4" r="5.9" fill="#8a8a8a" stroke="#fff" stroke-width="0.6"/>
<text x="650.30" y="446.96" font-size="6.6" text-anchor="middle" fill="#fff" >Ub</text>
<path d="M675.5,461.6 C676,453 672,447.5 666.5,445.5" fill="none" stroke="#111" stroke-width="0.9"/>
<polygon points="663.6,444.2 668.6,443.2 667.2,447.6" fill="#111"/>
<ellipse cx="657" cy="522.3" rx="26" ry="17" transform="rotate(38 657 522.3)" fill="#0c1f5e"/>
<path d="M629.5,491 C629.5,482 634,477.5 641,477.5 C648,477.5 652,479 657.5,479 C658.5,470.5 663,466.2 670,466.2 C678,466.2 682.5,474 682.5,484 C682.5,500 672,509.5 656,509.5 C640,509.5 629.5,502 629.5,491 Z" fill="#6aab46" stroke="#fff" stroke-width="0.6"/>
<circle cx="655.9" cy="484.8" r="6.2" fill="#8a8a8a" stroke="#fff" stroke-width="0.6"/>
<text x="655.90" y="487.36" font-size="6.6" text-anchor="middle" fill="#fff" >Ub</text>
<text x="639.80" y="489.94" font-size="11" text-anchor="middle" fill="#fff" >E2</text>
<text x="656.50" y="498.81" font-size="7" text-anchor="middle" fill="#fff" >UBE2G1</text>
<text x="656.50" y="505.11" font-size="7" text-anchor="middle" fill="#fff" >UBE2M</text>
<text x="656.60" y="522.39" font-size="10.3" text-anchor="middle" fill="#fff" >RBX1</text>
<path d="M556,527 C553.5,517 560,507 568,501 C575,496 581,493.6 587,493.6 C595,493.6 601,497 606,505 C610,512 615,519 614.2,527 C613.5,533 608,535.2 603,535 L565,535 C560,535 557,532 556,527 Z" fill="#7030a0"/>
<text x="584.50" y="518.02" font-size="10.1" text-anchor="middle" fill="#fff" >DDB1</text>
<path d="M585.15,536.35 A28.3,28.3 0 0 0 641.75,536.35" fill="none" stroke="#fff" stroke-width="23.8" stroke-linecap="round"/>
<path d="M585.15,536.35 A28.3,28.3 0 0 0 641.75,536.35" fill="none" stroke="#000" stroke-width="21.7" stroke-linecap="round"/>
<text x="613.40" y="566.25" font-size="10.2" text-anchor="middle" fill="#fff" >CUL4B</text>
</svg></body></html>
